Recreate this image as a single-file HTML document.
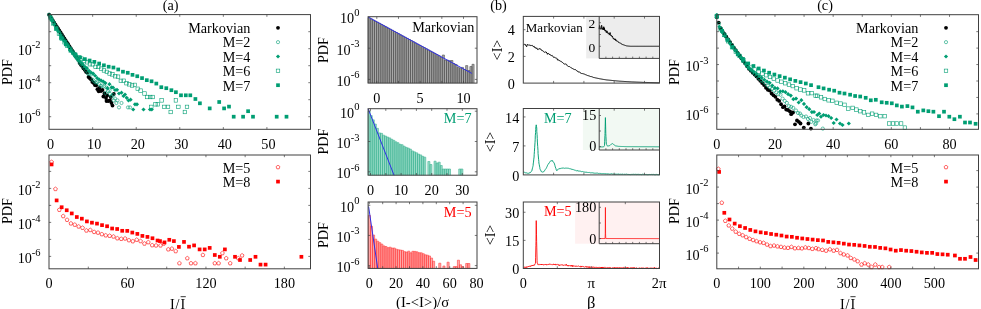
<!DOCTYPE html>
<html><head><meta charset="utf-8"><title>figure</title>
<style>
html,body{margin:0;padding:0;background:#fff;}
body{width:981px;height:309px;overflow:hidden;font-family:"Liberation Serif",serif;}
svg{display:block;font-family:"Liberation Serif",serif;filter:blur(0.45px);}
</style></head><body>
<svg width="981" height="309" viewBox="0 0 981 309">
<rect width="981" height="309" fill="#fff"/>
<text x="170.6" y="10.2" text-anchor="middle" font-size="14.2" fill="#000" >(a)</text>
<circle cx="49.1" cy="14.7" r="1.9" fill="#000000"/>
<circle cx="50.37" cy="16.66" r="1.9" fill="#000000"/>
<circle cx="51.64" cy="18.64" r="1.9" fill="#000000"/>
<circle cx="52.92" cy="20.65" r="1.9" fill="#000000"/>
<circle cx="54.19" cy="22.58" r="1.9" fill="#000000"/>
<circle cx="55.46" cy="24.56" r="1.9" fill="#000000"/>
<circle cx="56.73" cy="26.56" r="1.9" fill="#000000"/>
<circle cx="58" cy="28.5" r="1.9" fill="#000000"/>
<circle cx="59.28" cy="30.48" r="1.9" fill="#000000"/>
<circle cx="60.55" cy="32.46" r="1.9" fill="#000000"/>
<circle cx="61.82" cy="34.44" r="1.9" fill="#000000"/>
<circle cx="63.09" cy="36.39" r="1.9" fill="#000000"/>
<circle cx="64.36" cy="38.45" r="1.9" fill="#000000"/>
<circle cx="65.64" cy="40.38" r="1.9" fill="#000000"/>
<circle cx="66.91" cy="42.39" r="1.9" fill="#000000"/>
<circle cx="68.18" cy="44.26" r="1.9" fill="#000000"/>
<circle cx="69.45" cy="46.29" r="1.9" fill="#000000"/>
<circle cx="70.72" cy="48.31" r="1.9" fill="#000000"/>
<circle cx="72" cy="50.36" r="1.9" fill="#000000"/>
<circle cx="73.27" cy="52.26" r="1.9" fill="#000000"/>
<circle cx="74.54" cy="54.19" r="1.9" fill="#000000"/>
<circle cx="75.81" cy="56.23" r="1.9" fill="#000000"/>
<circle cx="77.08" cy="57.81" r="1.9" fill="#000000"/>
<circle cx="78.35" cy="59.82" r="1.9" fill="#000000"/>
<circle cx="79.63" cy="63.08" r="1.9" fill="#000000"/>
<circle cx="80.9" cy="64.84" r="1.9" fill="#000000"/>
<circle cx="82.17" cy="66.12" r="1.9" fill="#000000"/>
<circle cx="83.44" cy="68.23" r="1.9" fill="#000000"/>
<circle cx="84.71" cy="69.86" r="1.9" fill="#000000"/>
<circle cx="85.99" cy="71.82" r="1.9" fill="#000000"/>
<circle cx="87.26" cy="72.48" r="1.9" fill="#000000"/>
<circle cx="88.53" cy="76.94" r="1.9" fill="#000000"/>
<circle cx="89.8" cy="78.22" r="1.9" fill="#000000"/>
<circle cx="91.07" cy="79.42" r="1.9" fill="#000000"/>
<circle cx="92.35" cy="81.93" r="1.9" fill="#000000"/>
<circle cx="93.62" cy="82.92" r="1.9" fill="#000000"/>
<circle cx="94.89" cy="85.04" r="1.9" fill="#000000"/>
<circle cx="96.16" cy="85.4" r="1.9" fill="#000000"/>
<circle cx="97.43" cy="89.17" r="1.9" fill="#000000"/>
<circle cx="98.71" cy="91.3" r="1.9" fill="#000000"/>
<circle cx="99.5" cy="88" r="1.9" fill="#000000"/>
<circle cx="101" cy="91" r="1.9" fill="#000000"/>
<circle cx="102.5" cy="90" r="1.9" fill="#000000"/>
<circle cx="103.4" cy="96.5" r="1.9" fill="#000000"/>
<circle cx="104.5" cy="93.5" r="1.9" fill="#000000"/>
<circle cx="106" cy="98" r="1.9" fill="#000000"/>
<circle cx="107.2" cy="95.5" r="1.9" fill="#000000"/>
<circle cx="108.5" cy="101" r="1.9" fill="#000000"/>
<circle cx="110" cy="100.4" r="1.9" fill="#000000"/>
<circle cx="110.8" cy="97" r="1.9" fill="#000000"/>
<circle cx="112.5" cy="105.6" r="1.9" fill="#000000"/>
<circle cx="113.8" cy="94" r="1.9" fill="#000000"/>
<circle cx="111.5" cy="103" r="1.9" fill="#000000"/>
<circle cx="106.5" cy="101" r="1.9" fill="#000000"/>
<circle cx="49.1" cy="14.7" r="1.6" fill="none" stroke="#009e73" stroke-width="0.6"/>
<circle cx="50.71" cy="17.67" r="1.6" fill="none" stroke="#009e73" stroke-width="0.6"/>
<circle cx="52.32" cy="20.62" r="1.6" fill="none" stroke="#009e73" stroke-width="0.6"/>
<circle cx="53.94" cy="23.53" r="1.6" fill="none" stroke="#009e73" stroke-width="0.6"/>
<circle cx="55.55" cy="26.02" r="1.6" fill="none" stroke="#009e73" stroke-width="0.6"/>
<circle cx="57.16" cy="28.65" r="1.6" fill="none" stroke="#009e73" stroke-width="0.6"/>
<circle cx="58.77" cy="31.31" r="1.6" fill="none" stroke="#009e73" stroke-width="0.6"/>
<circle cx="60.38" cy="33.87" r="1.6" fill="none" stroke="#009e73" stroke-width="0.6"/>
<circle cx="61.99" cy="36.5" r="1.6" fill="none" stroke="#009e73" stroke-width="0.6"/>
<circle cx="63.61" cy="39.03" r="1.6" fill="none" stroke="#009e73" stroke-width="0.6"/>
<circle cx="65.22" cy="41.36" r="1.6" fill="none" stroke="#009e73" stroke-width="0.6"/>
<circle cx="66.83" cy="43.93" r="1.6" fill="none" stroke="#009e73" stroke-width="0.6"/>
<circle cx="68.44" cy="46.39" r="1.6" fill="none" stroke="#009e73" stroke-width="0.6"/>
<circle cx="70.05" cy="48.91" r="1.6" fill="none" stroke="#009e73" stroke-width="0.6"/>
<circle cx="71.66" cy="51.09" r="1.6" fill="none" stroke="#009e73" stroke-width="0.6"/>
<circle cx="73.28" cy="53.45" r="1.6" fill="none" stroke="#009e73" stroke-width="0.6"/>
<circle cx="74.89" cy="55.57" r="1.6" fill="none" stroke="#009e73" stroke-width="0.6"/>
<circle cx="76.5" cy="58.11" r="1.6" fill="none" stroke="#009e73" stroke-width="0.6"/>
<circle cx="78.11" cy="60.18" r="1.6" fill="none" stroke="#009e73" stroke-width="0.6"/>
<circle cx="79.72" cy="62.79" r="1.6" fill="none" stroke="#009e73" stroke-width="0.6"/>
<circle cx="81.33" cy="64.18" r="1.6" fill="none" stroke="#009e73" stroke-width="0.6"/>
<circle cx="82.95" cy="66.47" r="1.6" fill="none" stroke="#009e73" stroke-width="0.6"/>
<circle cx="84.56" cy="68.42" r="1.6" fill="none" stroke="#009e73" stroke-width="0.6"/>
<circle cx="86.17" cy="70.39" r="1.6" fill="none" stroke="#009e73" stroke-width="0.6"/>
<circle cx="87.78" cy="73.44" r="1.6" fill="none" stroke="#009e73" stroke-width="0.6"/>
<circle cx="89.39" cy="73.88" r="1.6" fill="none" stroke="#009e73" stroke-width="0.6"/>
<circle cx="91" cy="74.52" r="1.6" fill="none" stroke="#009e73" stroke-width="0.6"/>
<circle cx="92.62" cy="79.69" r="1.6" fill="none" stroke="#009e73" stroke-width="0.6"/>
<circle cx="94.23" cy="81.31" r="1.6" fill="none" stroke="#009e73" stroke-width="0.6"/>
<circle cx="95.84" cy="82.49" r="1.6" fill="none" stroke="#009e73" stroke-width="0.6"/>
<circle cx="97.45" cy="82.24" r="1.6" fill="none" stroke="#009e73" stroke-width="0.6"/>
<circle cx="99.06" cy="83.89" r="1.6" fill="none" stroke="#009e73" stroke-width="0.6"/>
<circle cx="100.68" cy="86.01" r="1.6" fill="none" stroke="#009e73" stroke-width="0.6"/>
<circle cx="102.29" cy="85.61" r="1.6" fill="none" stroke="#009e73" stroke-width="0.6"/>
<circle cx="103.9" cy="86.43" r="1.6" fill="none" stroke="#009e73" stroke-width="0.6"/>
<circle cx="105.51" cy="92.98" r="1.6" fill="none" stroke="#009e73" stroke-width="0.6"/>
<circle cx="106.5" cy="87.5" r="1.6" fill="none" stroke="#009e73" stroke-width="0.6"/>
<circle cx="108" cy="91" r="1.6" fill="none" stroke="#009e73" stroke-width="0.6"/>
<circle cx="109.5" cy="90.5" r="1.6" fill="none" stroke="#009e73" stroke-width="0.6"/>
<circle cx="110" cy="94" r="1.6" fill="none" stroke="#009e73" stroke-width="0.6"/>
<circle cx="111.5" cy="96" r="1.6" fill="none" stroke="#009e73" stroke-width="0.6"/>
<circle cx="113" cy="95" r="1.6" fill="none" stroke="#009e73" stroke-width="0.6"/>
<circle cx="113.8" cy="100.4" r="1.6" fill="none" stroke="#009e73" stroke-width="0.6"/>
<circle cx="115" cy="98.5" r="1.6" fill="none" stroke="#009e73" stroke-width="0.6"/>
<circle cx="116.4" cy="103" r="1.6" fill="none" stroke="#009e73" stroke-width="0.6"/>
<circle cx="117.5" cy="100.4" r="1.6" fill="none" stroke="#009e73" stroke-width="0.6"/>
<circle cx="119" cy="107.4" r="1.6" fill="none" stroke="#009e73" stroke-width="0.6"/>
<circle cx="121.5" cy="103" r="1.6" fill="none" stroke="#009e73" stroke-width="0.6"/>
<circle cx="128" cy="107.4" r="1.6" fill="none" stroke="#009e73" stroke-width="0.6"/>
<circle cx="130" cy="107.4" r="1.6" fill="none" stroke="#009e73" stroke-width="0.6"/>
<path d="M50.1 14.53l2.1 2.1l-2.1 2.1l-2.1 -2.1z" fill="#009e73"/>
<path d="M52.15 18.6l2.1 2.1l-2.1 2.1l-2.1 -2.1z" fill="#009e73"/>
<path d="M54.2 22.36l2.1 2.1l-2.1 2.1l-2.1 -2.1z" fill="#009e73"/>
<path d="M56.24 25.9l2.1 2.1l-2.1 2.1l-2.1 -2.1z" fill="#009e73"/>
<path d="M58.29 29.42l2.1 2.1l-2.1 2.1l-2.1 -2.1z" fill="#009e73"/>
<path d="M60.34 32.93l2.1 2.1l-2.1 2.1l-2.1 -2.1z" fill="#009e73"/>
<path d="M62.39 36.49l2.1 2.1l-2.1 2.1l-2.1 -2.1z" fill="#009e73"/>
<path d="M64.43 39.23l2.1 2.1l-2.1 2.1l-2.1 -2.1z" fill="#009e73"/>
<path d="M66.48 42.14l2.1 2.1l-2.1 2.1l-2.1 -2.1z" fill="#009e73"/>
<path d="M68.53 44.57l2.1 2.1l-2.1 2.1l-2.1 -2.1z" fill="#009e73"/>
<path d="M70.58 47.73l2.1 2.1l-2.1 2.1l-2.1 -2.1z" fill="#009e73"/>
<path d="M72.62 50.67l2.1 2.1l-2.1 2.1l-2.1 -2.1z" fill="#009e73"/>
<path d="M74.67 53.52l2.1 2.1l-2.1 2.1l-2.1 -2.1z" fill="#009e73"/>
<path d="M76.72 55.99l2.1 2.1l-2.1 2.1l-2.1 -2.1z" fill="#009e73"/>
<path d="M78.76 58.32l2.1 2.1l-2.1 2.1l-2.1 -2.1z" fill="#009e73"/>
<path d="M80.81 60.35l2.1 2.1l-2.1 2.1l-2.1 -2.1z" fill="#009e73"/>
<path d="M82.86 62.26l2.1 2.1l-2.1 2.1l-2.1 -2.1z" fill="#009e73"/>
<path d="M84.91 64.63l2.1 2.1l-2.1 2.1l-2.1 -2.1z" fill="#009e73"/>
<path d="M86.95 66.1l2.1 2.1l-2.1 2.1l-2.1 -2.1z" fill="#009e73"/>
<path d="M89 68.64l2.1 2.1l-2.1 2.1l-2.1 -2.1z" fill="#009e73"/>
<path d="M91.05 70.51l2.1 2.1l-2.1 2.1l-2.1 -2.1z" fill="#009e73"/>
<path d="M93.1 71.45l2.1 2.1l-2.1 2.1l-2.1 -2.1z" fill="#009e73"/>
<path d="M95.14 73.63l2.1 2.1l-2.1 2.1l-2.1 -2.1z" fill="#009e73"/>
<path d="M97.19 76.08l2.1 2.1l-2.1 2.1l-2.1 -2.1z" fill="#009e73"/>
<path d="M99.24 77.41l2.1 2.1l-2.1 2.1l-2.1 -2.1z" fill="#009e73"/>
<path d="M101.28 78.58l2.1 2.1l-2.1 2.1l-2.1 -2.1z" fill="#009e73"/>
<path d="M103.33 79.52l2.1 2.1l-2.1 2.1l-2.1 -2.1z" fill="#009e73"/>
<path d="M105.38 81l2.1 2.1l-2.1 2.1l-2.1 -2.1z" fill="#009e73"/>
<path d="M107.43 86.12l2.1 2.1l-2.1 2.1l-2.1 -2.1z" fill="#009e73"/>
<path d="M109.47 82.11l2.1 2.1l-2.1 2.1l-2.1 -2.1z" fill="#009e73"/>
<path d="M111.52 85.34l2.1 2.1l-2.1 2.1l-2.1 -2.1z" fill="#009e73"/>
<path d="M113 85.4l2.1 2.1l-2.1 2.1l-2.1 -2.1z" fill="#009e73"/>
<path d="M115 87.9l2.1 2.1l-2.1 2.1l-2.1 -2.1z" fill="#009e73"/>
<path d="M117 87.7l2.1 2.1l-2.1 2.1l-2.1 -2.1z" fill="#009e73"/>
<path d="M119 91.4l2.1 2.1l-2.1 2.1l-2.1 -2.1z" fill="#009e73"/>
<path d="M121.5 90.6l2.1 2.1l-2.1 2.1l-2.1 -2.1z" fill="#009e73"/>
<path d="M123.5 93.9l2.1 2.1l-2.1 2.1l-2.1 -2.1z" fill="#009e73"/>
<path d="M125 92.4l2.1 2.1l-2.1 2.1l-2.1 -2.1z" fill="#009e73"/>
<path d="M126.7 95.7l2.1 2.1l-2.1 2.1l-2.1 -2.1z" fill="#009e73"/>
<path d="M128.5 98.3l2.1 2.1l-2.1 2.1l-2.1 -2.1z" fill="#009e73"/>
<path d="M130.6 97.6l2.1 2.1l-2.1 2.1l-2.1 -2.1z" fill="#009e73"/>
<path d="M133.2 107.4l2.1 2.1l-2.1 2.1l-2.1 -2.1z" fill="#009e73"/>
<path d="M135 102.2l2.1 2.1l-2.1 2.1l-2.1 -2.1z" fill="#009e73"/>
<path d="M137 102.2l2.1 2.1l-2.1 2.1l-2.1 -2.1z" fill="#009e73"/>
<path d="M143.5 107.4l2.1 2.1l-2.1 2.1l-2.1 -2.1z" fill="#009e73"/>
<path d="M150 107.4l2.1 2.1l-2.1 2.1l-2.1 -2.1z" fill="#009e73"/>
<path d="M151.8 107.4l2.1 2.1l-2.1 2.1l-2.1 -2.1z" fill="#009e73"/>
<rect x="48.74" y="15.84" width="3.5" height="3.5" fill="none" stroke="#009e73" stroke-width="0.6"/>
<rect x="51.56" y="21.66" width="3.5" height="3.5" fill="none" stroke="#009e73" stroke-width="0.6"/>
<rect x="54.37" y="26.7" width="3.5" height="3.5" fill="none" stroke="#009e73" stroke-width="0.6"/>
<rect x="57.19" y="31.77" width="3.5" height="3.5" fill="none" stroke="#009e73" stroke-width="0.6"/>
<rect x="60" y="36.93" width="3.5" height="3.5" fill="none" stroke="#009e73" stroke-width="0.6"/>
<rect x="62.81" y="40.5" width="3.5" height="3.5" fill="none" stroke="#009e73" stroke-width="0.6"/>
<rect x="65.63" y="43.95" width="3.5" height="3.5" fill="none" stroke="#009e73" stroke-width="0.6"/>
<rect x="68.44" y="47.29" width="3.5" height="3.5" fill="none" stroke="#009e73" stroke-width="0.6"/>
<rect x="71.26" y="50.93" width="3.5" height="3.5" fill="none" stroke="#009e73" stroke-width="0.6"/>
<rect x="74.07" y="53.73" width="3.5" height="3.5" fill="none" stroke="#009e73" stroke-width="0.6"/>
<rect x="76.88" y="55.44" width="3.5" height="3.5" fill="none" stroke="#009e73" stroke-width="0.6"/>
<rect x="79.7" y="56.89" width="3.5" height="3.5" fill="none" stroke="#009e73" stroke-width="0.6"/>
<rect x="82.51" y="58.86" width="3.5" height="3.5" fill="none" stroke="#009e73" stroke-width="0.6"/>
<rect x="85.33" y="60.52" width="3.5" height="3.5" fill="none" stroke="#009e73" stroke-width="0.6"/>
<rect x="88.14" y="62.5" width="3.5" height="3.5" fill="none" stroke="#009e73" stroke-width="0.6"/>
<rect x="90.95" y="62.57" width="3.5" height="3.5" fill="none" stroke="#009e73" stroke-width="0.6"/>
<rect x="93.77" y="65.08" width="3.5" height="3.5" fill="none" stroke="#009e73" stroke-width="0.6"/>
<rect x="96.58" y="65.2" width="3.5" height="3.5" fill="none" stroke="#009e73" stroke-width="0.6"/>
<rect x="99.4" y="66.91" width="3.5" height="3.5" fill="none" stroke="#009e73" stroke-width="0.6"/>
<rect x="102.21" y="68.7" width="3.5" height="3.5" fill="none" stroke="#009e73" stroke-width="0.6"/>
<rect x="105.02" y="70.16" width="3.5" height="3.5" fill="none" stroke="#009e73" stroke-width="0.6"/>
<rect x="107.84" y="71.73" width="3.5" height="3.5" fill="none" stroke="#009e73" stroke-width="0.6"/>
<rect x="110.65" y="72.67" width="3.5" height="3.5" fill="none" stroke="#009e73" stroke-width="0.6"/>
<rect x="113.47" y="74.49" width="3.5" height="3.5" fill="none" stroke="#009e73" stroke-width="0.6"/>
<rect x="116.28" y="74.94" width="3.5" height="3.5" fill="none" stroke="#009e73" stroke-width="0.6"/>
<rect x="119.09" y="79.11" width="3.5" height="3.5" fill="none" stroke="#009e73" stroke-width="0.6"/>
<rect x="121.91" y="79" width="3.5" height="3.5" fill="none" stroke="#009e73" stroke-width="0.6"/>
<rect x="124.72" y="81.46" width="3.5" height="3.5" fill="none" stroke="#009e73" stroke-width="0.6"/>
<rect x="127.54" y="82.59" width="3.5" height="3.5" fill="none" stroke="#009e73" stroke-width="0.6"/>
<rect x="130.35" y="83.73" width="3.5" height="3.5" fill="none" stroke="#009e73" stroke-width="0.6"/>
<rect x="133.16" y="83.14" width="3.5" height="3.5" fill="none" stroke="#009e73" stroke-width="0.6"/>
<rect x="135.98" y="87.04" width="3.5" height="3.5" fill="none" stroke="#009e73" stroke-width="0.6"/>
<rect x="138.79" y="88.85" width="3.5" height="3.5" fill="none" stroke="#009e73" stroke-width="0.6"/>
<rect x="142.75" y="91.75" width="3.5" height="3.5" fill="none" stroke="#009e73" stroke-width="0.6"/>
<rect x="145.65" y="95.25" width="3.5" height="3.5" fill="none" stroke="#009e73" stroke-width="0.6"/>
<rect x="148.45" y="95.25" width="3.5" height="3.5" fill="none" stroke="#009e73" stroke-width="0.6"/>
<rect x="150.85" y="95.25" width="3.5" height="3.5" fill="none" stroke="#009e73" stroke-width="0.6"/>
<rect x="149.55" y="105.15" width="3.5" height="3.5" fill="none" stroke="#009e73" stroke-width="0.6"/>
<rect x="153.75" y="102.55" width="3.5" height="3.5" fill="none" stroke="#009e73" stroke-width="0.6"/>
<rect x="156.05" y="102.55" width="3.5" height="3.5" fill="none" stroke="#009e73" stroke-width="0.6"/>
<rect x="159.85" y="98.65" width="3.5" height="3.5" fill="none" stroke="#009e73" stroke-width="0.6"/>
<rect x="162.45" y="105.15" width="3.5" height="3.5" fill="none" stroke="#009e73" stroke-width="0.6"/>
<rect x="166.25" y="105.15" width="3.5" height="3.5" fill="none" stroke="#009e73" stroke-width="0.6"/>
<rect x="168.95" y="110.25" width="3.5" height="3.5" fill="none" stroke="#009e73" stroke-width="0.6"/>
<rect x="174.15" y="98.65" width="3.5" height="3.5" fill="none" stroke="#009e73" stroke-width="0.6"/>
<rect x="176.65" y="105.15" width="3.5" height="3.5" fill="none" stroke="#009e73" stroke-width="0.6"/>
<rect x="183.15" y="110.25" width="3.5" height="3.5" fill="none" stroke="#009e73" stroke-width="0.6"/>
<rect x="185.25" y="105.15" width="3.5" height="3.5" fill="none" stroke="#009e73" stroke-width="0.6"/>
<rect x="49.63" y="17.58" width="3.7" height="3.7" fill="#009e73"/>
<rect x="54.4" y="27.04" width="3.7" height="3.7" fill="#009e73"/>
<rect x="59.16" y="36.09" width="3.7" height="3.7" fill="#009e73"/>
<rect x="63.93" y="42.49" width="3.7" height="3.7" fill="#009e73"/>
<rect x="68.69" y="48.86" width="3.7" height="3.7" fill="#009e73"/>
<rect x="73.46" y="52.41" width="3.7" height="3.7" fill="#009e73"/>
<rect x="78.23" y="55.59" width="3.7" height="3.7" fill="#009e73"/>
<rect x="82.99" y="57.26" width="3.7" height="3.7" fill="#009e73"/>
<rect x="87.76" y="58.67" width="3.7" height="3.7" fill="#009e73"/>
<rect x="92.52" y="60" width="3.7" height="3.7" fill="#009e73"/>
<rect x="97.29" y="61.68" width="3.7" height="3.7" fill="#009e73"/>
<rect x="102.05" y="63.45" width="3.7" height="3.7" fill="#009e73"/>
<rect x="106.82" y="64.87" width="3.7" height="3.7" fill="#009e73"/>
<rect x="111.58" y="65.69" width="3.7" height="3.7" fill="#009e73"/>
<rect x="116.35" y="67.61" width="3.7" height="3.7" fill="#009e73"/>
<rect x="121.11" y="69.86" width="3.7" height="3.7" fill="#009e73"/>
<rect x="125.88" y="70.92" width="3.7" height="3.7" fill="#009e73"/>
<rect x="130.65" y="72.98" width="3.7" height="3.7" fill="#009e73"/>
<rect x="135.41" y="74.4" width="3.7" height="3.7" fill="#009e73"/>
<rect x="140.18" y="76.26" width="3.7" height="3.7" fill="#009e73"/>
<rect x="144.94" y="78.32" width="3.7" height="3.7" fill="#009e73"/>
<rect x="149.71" y="79.44" width="3.7" height="3.7" fill="#009e73"/>
<rect x="154.47" y="81.73" width="3.7" height="3.7" fill="#009e73"/>
<rect x="159.45" y="85.35" width="3.7" height="3.7" fill="#009e73"/>
<rect x="164.45" y="86.35" width="3.7" height="3.7" fill="#009e73"/>
<rect x="169.55" y="88.35" width="3.7" height="3.7" fill="#009e73"/>
<rect x="174.05" y="90.35" width="3.7" height="3.7" fill="#009e73"/>
<rect x="179.15" y="93.45" width="3.7" height="3.7" fill="#009e73"/>
<rect x="183.95" y="93.45" width="3.7" height="3.7" fill="#009e73"/>
<rect x="188.45" y="93.45" width="3.7" height="3.7" fill="#009e73"/>
<rect x="193.55" y="97.15" width="3.7" height="3.7" fill="#009e73"/>
<rect x="198.05" y="101.45" width="3.7" height="3.7" fill="#009e73"/>
<rect x="207.85" y="106.55" width="3.7" height="3.7" fill="#009e73"/>
<rect x="217.35" y="100.15" width="3.7" height="3.7" fill="#009e73"/>
<rect x="222.25" y="106.55" width="3.7" height="3.7" fill="#009e73"/>
<rect x="227.15" y="104.75" width="3.7" height="3.7" fill="#009e73"/>
<rect x="231.85" y="114.85" width="3.7" height="3.7" fill="#009e73"/>
<rect x="241.25" y="114.85" width="3.7" height="3.7" fill="#009e73"/>
<rect x="246.25" y="109.35" width="3.7" height="3.7" fill="#009e73"/>
<rect x="251.15" y="114.85" width="3.7" height="3.7" fill="#009e73"/>
<rect x="274.85" y="114.85" width="3.7" height="3.7" fill="#009e73"/>
<rect x="284.65" y="114.85" width="3.7" height="3.7" fill="#009e73"/>
<rect x="49" y="14.6" width="261.5" height="114.7" fill="none" stroke="#404040" stroke-width="1.0"/>
<path d="M92.66 129.3v-2.2M92.66 14.6v2.2M136.22 129.3v-2.2M136.22 14.6v2.2M179.78 129.3v-2.2M179.78 14.6v2.2M223.34 129.3v-2.2M223.34 14.6v2.2M266.9 129.3v-2.2M266.9 14.6v2.2M49 31.7h2.2M310.5 31.7h-2.2M49 48.7h2.2M310.5 48.7h-2.2M49 65.7h2.2M310.5 65.7h-2.2M49 82.7h2.2M310.5 82.7h-2.2M49 99.7h2.2M310.5 99.7h-2.2M49 116.7h2.2M310.5 116.7h-2.2" stroke="#404040" stroke-width="0.7" fill="none"/>
<text x="40.6" y="55.2" text-anchor="end" font-size="14.2">10<tspan dy="-7.3" font-size="10.5">-2</tspan></text>
<text x="40.6" y="89.2" text-anchor="end" font-size="14.2">10<tspan dy="-7.3" font-size="10.5">-4</tspan></text>
<text x="40.6" y="123.2" text-anchor="end" font-size="14.2">10<tspan dy="-7.3" font-size="10.5">-6</tspan></text>
<text x="50.6" y="149.3" text-anchor="middle" font-size="14.2" fill="#000" >0</text>
<text x="94.16" y="149.3" text-anchor="middle" font-size="14.2" fill="#000" >10</text>
<text x="137.72" y="149.3" text-anchor="middle" font-size="14.2" fill="#000" >20</text>
<text x="181.28" y="149.3" text-anchor="middle" font-size="14.2" fill="#000" >30</text>
<text x="224.84" y="149.3" text-anchor="middle" font-size="14.2" fill="#000" >40</text>
<text x="268.4" y="149.3" text-anchor="middle" font-size="14.2" fill="#000" >50</text>
<text x="12" y="72" text-anchor="middle" font-size="14.2" fill="#000" transform="rotate(-90 12 72)">PDF</text>
<text x="250.4" y="33.1" text-anchor="end" font-size="14.2" fill="#000" >Markovian</text>
<circle cx="278" cy="27.8" r="1.9" fill="#000000"/>
<text x="250.4" y="47.45" text-anchor="end" font-size="14.2" fill="#000" >M=2</text>
<circle cx="278" cy="42.15" r="1.6" fill="none" stroke="#009e73" stroke-width="0.6"/>
<text x="250.4" y="61.8" text-anchor="end" font-size="14.2" fill="#000" >M=4</text>
<path d="M278 54.4l2.1 2.1l-2.1 2.1l-2.1 -2.1z" fill="#009e73"/>
<text x="250.4" y="76.15" text-anchor="end" font-size="14.2" fill="#000" >M=6</text>
<rect x="276.25" y="69.1" width="3.5" height="3.5" fill="none" stroke="#009e73" stroke-width="0.6"/>
<text x="250.4" y="90.5" text-anchor="end" font-size="14.2" fill="#000" >M=7</text>
<rect x="276.15" y="83.35" width="3.7" height="3.7" fill="#009e73"/>
<polygon points="51.58,160.05 53.49,161.43 52.76,163.67 50.41,163.67 49.68,161.43" fill="none" stroke="#ff0000" stroke-width="0.6"/>
<polygon points="55.45,187.04 57.35,188.42 56.63,190.66 54.28,190.66 53.55,188.42" fill="none" stroke="#ff0000" stroke-width="0.6"/>
<polygon points="59.32,207.86 61.22,209.24 60.5,211.48 58.15,211.48 57.42,209.24" fill="none" stroke="#ff0000" stroke-width="0.6"/>
<polygon points="63.19,214.17 65.09,215.55 64.37,217.79 62.01,217.79 61.29,215.55" fill="none" stroke="#ff0000" stroke-width="0.6"/>
<polygon points="67.06,217.85 68.96,219.23 68.23,221.46 65.88,221.46 65.16,219.23" fill="none" stroke="#ff0000" stroke-width="0.6"/>
<polygon points="70.93,221.46 72.83,222.84 72.1,225.08 69.75,225.08 69.02,222.84" fill="none" stroke="#ff0000" stroke-width="0.6"/>
<polygon points="74.8,222.74 76.7,224.12 75.97,226.36 73.62,226.36 72.89,224.12" fill="none" stroke="#ff0000" stroke-width="0.6"/>
<polygon points="78.66,224.56 80.57,225.95 79.84,228.18 77.49,228.18 76.76,225.95" fill="none" stroke="#ff0000" stroke-width="0.6"/>
<polygon points="82.53,225.86 84.44,227.24 83.71,229.48 81.36,229.48 80.63,227.24" fill="none" stroke="#ff0000" stroke-width="0.6"/>
<polygon points="86.4,228.56 88.3,229.94 87.58,232.18 85.23,232.18 84.5,229.94" fill="none" stroke="#ff0000" stroke-width="0.6"/>
<polygon points="90.27,228.07 92.17,229.45 91.45,231.69 89.09,231.69 88.37,229.45" fill="none" stroke="#ff0000" stroke-width="0.6"/>
<polygon points="94.14,229.98 96.04,231.36 95.31,233.59 92.96,233.59 92.24,231.36" fill="none" stroke="#ff0000" stroke-width="0.6"/>
<polygon points="98.01,230.67 99.91,232.06 99.18,234.29 96.83,234.29 96.11,232.06" fill="none" stroke="#ff0000" stroke-width="0.6"/>
<polygon points="101.88,232.24 103.78,233.62 103.05,235.86 100.7,235.86 99.97,233.62" fill="none" stroke="#ff0000" stroke-width="0.6"/>
<polygon points="105.75,233.42 107.65,234.8 106.92,237.04 104.57,237.04 103.84,234.8" fill="none" stroke="#ff0000" stroke-width="0.6"/>
<polygon points="109.61,233.85 111.52,235.23 110.79,237.47 108.44,237.47 107.71,235.23" fill="none" stroke="#ff0000" stroke-width="0.6"/>
<polygon points="113.48,234.58 115.38,235.96 114.66,238.2 112.31,238.2 111.58,235.96" fill="none" stroke="#ff0000" stroke-width="0.6"/>
<polygon points="117.35,236.35 119.25,237.73 118.53,239.97 116.18,239.97 115.45,237.73" fill="none" stroke="#ff0000" stroke-width="0.6"/>
<polygon points="121.22,236.9 123.12,238.28 122.4,240.52 120.04,240.52 119.32,238.28" fill="none" stroke="#ff0000" stroke-width="0.6"/>
<polygon points="125.09,236.55 126.99,237.93 126.26,240.17 123.91,240.17 123.19,237.93" fill="none" stroke="#ff0000" stroke-width="0.6"/>
<polygon points="128.96,238.27 130.86,239.66 130.13,241.89 127.78,241.89 127.06,239.66" fill="none" stroke="#ff0000" stroke-width="0.6"/>
<polygon points="132.83,239.32 134.73,240.7 134,242.94 131.65,242.94 130.92,240.7" fill="none" stroke="#ff0000" stroke-width="0.6"/>
<polygon points="136.7,237.8 138.6,239.18 137.87,241.42 135.52,241.42 134.79,239.18" fill="none" stroke="#ff0000" stroke-width="0.6"/>
<polygon points="140.56,239.17 142.47,240.55 141.74,242.79 139.39,242.79 138.66,240.55" fill="none" stroke="#ff0000" stroke-width="0.6"/>
<polygon points="144.43,241.65 146.33,243.03 145.61,245.27 143.26,245.27 142.53,243.03" fill="none" stroke="#ff0000" stroke-width="0.6"/>
<polygon points="148.3,240.27 150.2,241.65 149.48,243.89 147.13,243.89 146.4,241.65" fill="none" stroke="#ff0000" stroke-width="0.6"/>
<polygon points="152.17,243.26 154.07,244.64 153.35,246.88 150.99,246.88 150.27,244.64" fill="none" stroke="#ff0000" stroke-width="0.6"/>
<polygon points="156.04,243.5 157.94,244.88 157.21,247.11 154.86,247.11 154.14,244.88" fill="none" stroke="#ff0000" stroke-width="0.6"/>
<polygon points="160.5,243.5 162.4,244.88 161.68,247.12 159.32,247.12 158.6,244.88" fill="none" stroke="#ff0000" stroke-width="0.6"/>
<polygon points="163.8,241.6 165.7,242.98 164.98,245.22 162.62,245.22 161.9,242.98" fill="none" stroke="#ff0000" stroke-width="0.6"/>
<polygon points="168.3,247.4 170.2,248.78 169.48,251.02 167.12,251.02 166.4,248.78" fill="none" stroke="#ff0000" stroke-width="0.6"/>
<polygon points="171.9,246.7 173.8,248.08 173.08,250.32 170.72,250.32 170,248.08" fill="none" stroke="#ff0000" stroke-width="0.6"/>
<polygon points="175.7,249.2 177.6,250.58 176.88,252.82 174.52,252.82 173.8,250.58" fill="none" stroke="#ff0000" stroke-width="0.6"/>
<polygon points="179.4,261.3 181.3,262.68 180.58,264.92 178.22,264.92 177.5,262.68" fill="none" stroke="#ff0000" stroke-width="0.6"/>
<polygon points="187.3,256.3 189.2,257.68 188.48,259.92 186.12,259.92 185.4,257.68" fill="none" stroke="#ff0000" stroke-width="0.6"/>
<polygon points="191,261.3 192.9,262.68 192.18,264.92 189.82,264.92 189.1,262.68" fill="none" stroke="#ff0000" stroke-width="0.6"/>
<polygon points="195.4,261.3 197.3,262.68 196.58,264.92 194.22,264.92 193.5,262.68" fill="none" stroke="#ff0000" stroke-width="0.6"/>
<polygon points="202.9,253 204.8,254.38 204.08,256.62 201.72,256.62 201,254.38" fill="none" stroke="#ff0000" stroke-width="0.6"/>
<polygon points="214.8,261.3 216.7,262.68 215.98,264.92 213.62,264.92 212.9,262.68" fill="none" stroke="#ff0000" stroke-width="0.6"/>
<polygon points="218.6,261.3 220.5,262.68 219.78,264.92 217.42,264.92 216.7,262.68" fill="none" stroke="#ff0000" stroke-width="0.6"/>
<polygon points="222.4,251.2 224.3,252.58 223.58,254.82 221.22,254.82 220.5,252.58" fill="none" stroke="#ff0000" stroke-width="0.6"/>
<polygon points="226.2,256.3 228.1,257.68 227.38,259.92 225.02,259.92 224.3,257.68" fill="none" stroke="#ff0000" stroke-width="0.6"/>
<polygon points="230.2,261.3 232.1,262.68 231.38,264.92 229.02,264.92 228.3,262.68" fill="none" stroke="#ff0000" stroke-width="0.6"/>
<polygon points="238.3,256.3 240.2,257.68 239.48,259.92 237.12,259.92 236.4,257.68" fill="none" stroke="#ff0000" stroke-width="0.6"/>
<polygon points="242.1,253.5 244,254.88 243.28,257.12 240.92,257.12 240.2,254.88" fill="none" stroke="#ff0000" stroke-width="0.6"/>
<rect x="49.73" y="162.58" width="3.7" height="3.7" fill="#ff0000"/>
<rect x="54.78" y="198.56" width="3.7" height="3.7" fill="#ff0000"/>
<rect x="59.82" y="205.37" width="3.7" height="3.7" fill="#ff0000"/>
<rect x="64.87" y="208.4" width="3.7" height="3.7" fill="#ff0000"/>
<rect x="69.91" y="211.59" width="3.7" height="3.7" fill="#ff0000"/>
<rect x="74.96" y="215.17" width="3.7" height="3.7" fill="#ff0000"/>
<rect x="80" y="216.83" width="3.7" height="3.7" fill="#ff0000"/>
<rect x="85.05" y="219.56" width="3.7" height="3.7" fill="#ff0000"/>
<rect x="90.09" y="220.83" width="3.7" height="3.7" fill="#ff0000"/>
<rect x="95.14" y="221.76" width="3.7" height="3.7" fill="#ff0000"/>
<rect x="100.18" y="223.28" width="3.7" height="3.7" fill="#ff0000"/>
<rect x="105.23" y="224.41" width="3.7" height="3.7" fill="#ff0000"/>
<rect x="110.27" y="226.65" width="3.7" height="3.7" fill="#ff0000"/>
<rect x="115.32" y="227.15" width="3.7" height="3.7" fill="#ff0000"/>
<rect x="120.36" y="228.95" width="3.7" height="3.7" fill="#ff0000"/>
<rect x="125.41" y="229.03" width="3.7" height="3.7" fill="#ff0000"/>
<rect x="130.45" y="230.71" width="3.7" height="3.7" fill="#ff0000"/>
<rect x="135.5" y="232.04" width="3.7" height="3.7" fill="#ff0000"/>
<rect x="140.54" y="234.06" width="3.7" height="3.7" fill="#ff0000"/>
<rect x="145.59" y="235.04" width="3.7" height="3.7" fill="#ff0000"/>
<rect x="150.63" y="236.4" width="3.7" height="3.7" fill="#ff0000"/>
<rect x="155.68" y="238.66" width="3.7" height="3.7" fill="#ff0000"/>
<rect x="158.15" y="239.25" width="3.7" height="3.7" fill="#ff0000"/>
<rect x="162.65" y="240.55" width="3.7" height="3.7" fill="#ff0000"/>
<rect x="167.45" y="237.95" width="3.7" height="3.7" fill="#ff0000"/>
<rect x="172.05" y="239.25" width="3.7" height="3.7" fill="#ff0000"/>
<rect x="177.05" y="245.05" width="3.7" height="3.7" fill="#ff0000"/>
<rect x="182.15" y="240.05" width="3.7" height="3.7" fill="#ff0000"/>
<rect x="187.15" y="244.85" width="3.7" height="3.7" fill="#ff0000"/>
<rect x="192.25" y="243.55" width="3.7" height="3.7" fill="#ff0000"/>
<rect x="197.75" y="247.55" width="3.7" height="3.7" fill="#ff0000"/>
<rect x="202.85" y="247.55" width="3.7" height="3.7" fill="#ff0000"/>
<rect x="207.85" y="246.05" width="3.7" height="3.7" fill="#ff0000"/>
<rect x="212.95" y="253.15" width="3.7" height="3.7" fill="#ff0000"/>
<rect x="217.95" y="254.95" width="3.7" height="3.7" fill="#ff0000"/>
<rect x="223.05" y="247.55" width="3.7" height="3.7" fill="#ff0000"/>
<rect x="233.15" y="254.95" width="3.7" height="3.7" fill="#ff0000"/>
<rect x="238.15" y="258.15" width="3.7" height="3.7" fill="#ff0000"/>
<rect x="248.35" y="258.15" width="3.7" height="3.7" fill="#ff0000"/>
<rect x="253.65" y="254.95" width="3.7" height="3.7" fill="#ff0000"/>
<rect x="258.65" y="262.75" width="3.7" height="3.7" fill="#ff0000"/>
<rect x="263.75" y="262.75" width="3.7" height="3.7" fill="#ff0000"/>
<rect x="299.55" y="254.95" width="3.7" height="3.7" fill="#ff0000"/>
<rect x="49" y="155" width="261.5" height="113.8" fill="none" stroke="#404040" stroke-width="1.0"/>
<path d="M88.31 268.8v-2.2M88.31 155v2.2M127.52 268.8v-2.2M127.52 155v2.2M166.73 268.8v-2.2M166.73 155v2.2M205.94 268.8v-2.2M205.94 155v2.2M245.15 268.8v-2.2M245.15 155v2.2M284.36 268.8v-2.2M284.36 155v2.2M49 171.4h2.2M310.5 171.4h-2.2M49 188.4h2.2M310.5 188.4h-2.2M49 205.4h2.2M310.5 205.4h-2.2M49 222.4h2.2M310.5 222.4h-2.2M49 239.4h2.2M310.5 239.4h-2.2M49 256.4h2.2M310.5 256.4h-2.2" stroke="#404040" stroke-width="0.7" fill="none"/>
<text x="40.6" y="194.9" text-anchor="end" font-size="14.2">10<tspan dy="-7.3" font-size="10.5">-2</tspan></text>
<text x="40.6" y="228.9" text-anchor="end" font-size="14.2">10<tspan dy="-7.3" font-size="10.5">-4</tspan></text>
<text x="40.6" y="262.9" text-anchor="end" font-size="14.2">10<tspan dy="-7.3" font-size="10.5">-6</tspan></text>
<text x="49.1" y="288.3" text-anchor="middle" font-size="14.2" fill="#000" >0</text>
<text x="127.52" y="288.3" text-anchor="middle" font-size="14.2" fill="#000" >60</text>
<text x="205.94" y="288.3" text-anchor="middle" font-size="14.2" fill="#000" >120</text>
<text x="284.36" y="288.3" text-anchor="middle" font-size="14.2" fill="#000" >180</text>
<text x="12" y="211" text-anchor="middle" font-size="14.2" fill="#000" transform="rotate(-90 12 211)">PDF</text>
<text x="178" y="308.6" text-anchor="middle" font-size="14.2" fill="#000" letter-spacing="0.9">I/I</text>
<path d="M180.6 296.7h5.2" stroke="#000" stroke-width="0.8"/>
<text x="250.4" y="172.5" text-anchor="end" font-size="14.2" fill="#000" >M=5</text>
<polygon points="278,165.2 279.9,166.58 279.18,168.82 276.82,168.82 276.1,166.58" fill="none" stroke="#ff0000" stroke-width="0.6"/>
<text x="250.4" y="186.9" text-anchor="end" font-size="14.2" fill="#000" >M=8</text>
<rect x="276.15" y="179.75" width="3.7" height="3.7" fill="#ff0000"/>
<path d="M368.1 83.1V17.63h2.12V83.1M370.22 83.1V18.78h2.12V83.1M372.34 83.1V19.93h2.12V83.1M374.46 83.1V21.09h2.12V83.1M376.58 83.1V22.24h2.12V83.1M378.7 83.1V23.39h2.12V83.1M380.82 83.1V24.54h2.12V83.1M382.94 83.1V25.69h2.12V83.1M385.06 83.1V26.85h2.12V83.1M387.18 83.1V28h2.12V83.1M389.3 83.1V29.15h2.12V83.1M391.42 83.1V30.3h2.12V83.1M393.54 83.1V31.46h2.12V83.1M395.66 83.1V32.61h2.12V83.1M397.78 83.1V33.76h2.12V83.1M399.9 83.1V34.91h2.12V83.1M402.02 83.1V36.06h2.12V83.1M404.14 83.1V37.22h2.12V83.1M406.26 83.1V38.37h2.12V83.1M408.38 83.1V39.52h2.12V83.1M410.5 83.1V40.67h2.12V83.1M412.62 83.1V41.82h2.12V83.1M414.74 83.1V42.98h2.12V83.1M416.86 83.1V44.13h2.12V83.1M418.98 83.1V45.28h2.12V83.1M421.1 83.1V46.43h2.12V83.1M423.22 83.1V47.58h2.12V83.1M425.34 83.1V48.74h2.12V83.1M427.46 83.1V49.89h2.12V83.1M429.58 83.1V51.04h2.12V83.1M431.7 83.1V52.19h2.12V83.1M433.82 83.1V53.35h2.12V83.1M435.94 83.1V54.5h2.12V83.1M438.06 83.1V55.7h2.12V83.1M440.18 83.1V57.25h2.12V83.1M442.3 83.1V55h2.12V83.1M444.42 83.1V60.12h2.12V83.1M446.54 83.1V60.22h2.12V83.1M448.66 83.1V60.69h2.12V83.1M450.78 83.1V60.5h2.12V83.1M452.9 83.1V63.5h2.12V83.1M455.02 83.1V64.56h2.12V83.1M457.14 83.1V67.27h2.12V83.1M459.26 83.1V68.13h2.12V83.1M461.38 83.1V67.4h2.12V83.1M463.5 83.1V69.5h2.12V83.1M465.62 83.1V65.6h2.12V83.1M467.74 83.1V70.5h2.12V83.1M469.86 83.1V66.5h2.12V83.1M471.98 83.1V64.3h2.12V83.1" fill="#a8a8a8" stroke="#505050" stroke-width="0.6" stroke-linejoin="miter"/>
<path d="M368 17L471.8 73.4" stroke="#3030e6" stroke-width="1.0" fill="none"/>
<rect x="368.1" y="16.7" width="108.9" height="66.4" fill="none" stroke="#404040" stroke-width="1.0"/>
<path d="M376.8 83.1v-2.2M376.8 16.7v2.2M398.48 83.1v-2.2M398.48 16.7v2.2M420.15 83.1v-2.2M420.15 16.7v2.2M441.83 83.1v-2.2M441.83 16.7v2.2M463.5 83.1v-2.2M463.5 16.7v2.2M368.1 48.2h2.2M477 48.2h-2.2M368.1 79.4h2.2M477 79.4h-2.2" stroke="#404040" stroke-width="0.7" fill="none"/>
<text x="359.4" y="23.3" text-anchor="end" font-size="14.2">10<tspan dy="-7.3" font-size="10.5">0</tspan></text>
<text x="359.4" y="54.5" text-anchor="end" font-size="14.2">10<tspan dy="-7.3" font-size="10.5">-3</tspan></text>
<text x="359.4" y="85.7" text-anchor="end" font-size="14.2">10<tspan dy="-7.3" font-size="10.5">-6</tspan></text>
<text x="376.8" y="102.7" text-anchor="middle" font-size="14.2" fill="#000" >0</text>
<text x="420.15" y="102.7" text-anchor="middle" font-size="14.2" fill="#000" >5</text>
<text x="463.5" y="102.7" text-anchor="middle" font-size="14.2" fill="#000" >10</text>
<text x="474.4" y="31.9" text-anchor="end" font-size="14.2" fill="#000" >Markovian</text>
<text x="328.2" y="50" text-anchor="middle" font-size="14.2" fill="#000" transform="rotate(-90 328.2 50)">PDF</text>
<path d="M368.1 175.2V111.33h2.06V175.2M370.16 175.2V115.58h2.06V175.2M372.22 175.2V119.82h2.06V175.2M374.28 175.2V124.07h2.06V175.2M376.34 175.2V128.32h2.06V175.2M378.4 175.2V132.88h2.06V175.2M380.46 175.2V133.34h2.06V175.2M382.52 175.2V135.16h2.06V175.2M384.58 175.2V136.09h2.06V175.2M386.64 175.2V137.1h2.06V175.2M388.7 175.2V137.92h2.06V175.2M390.76 175.2V139.29h2.06V175.2M392.82 175.2V140.38h2.06V175.2M394.88 175.2V141.82h2.06V175.2M396.94 175.2V142.72h2.06V175.2M399 175.2V144.29h2.06V175.2M401.06 175.2V144.71h2.06V175.2M403.12 175.2V146.21h2.06V175.2M405.18 175.2V147.35h2.06V175.2M407.24 175.2V148.07h2.06V175.2M409.3 175.2V149.1h2.06V175.2M411.36 175.2V150.89h2.06V175.2M413.42 175.2V151.87h2.06V175.2M415.48 175.2V152.8h2.06V175.2M417.54 175.2V154.09h2.06V175.2M419.6 175.2V154.9h2.06V175.2M421.66 175.2V156.31h2.06V175.2M423.72 175.2V157.18h2.06V175.2M427.84 175.2V161.5h2.06V175.2M429.9 175.2V164.5h2.06V175.2M434.02 175.2V161.2h2.06V175.2M436.08 175.2V163h2.06V175.2M438.14 175.2V162.2h2.06V175.2M440.2 175.2V165.5h2.06V175.2M442.26 175.2V169h2.06V175.2M444.32 175.2V169h2.06V175.2M446.38 175.2V169h2.06V175.2M448.44 175.2V169h2.06V175.2M458.74 175.2V169h2.06V175.2M460.8 175.2V169h2.06V175.2" fill="#9adcc8" stroke="#3fb493" stroke-width="0.6" stroke-linejoin="miter"/>
<path d="M368.2 108.9L394 175.2" stroke="#3030e6" stroke-width="1.0" fill="none"/>
<rect x="368.1" y="108.7" width="108.9" height="66.5" fill="none" stroke="#404040" stroke-width="1.0"/>
<path d="M370.5 175.2v-2.2M370.5 108.7v2.2M385.8 175.2v-2.2M385.8 108.7v2.2M401.1 175.2v-2.2M401.1 108.7v2.2M416.4 175.2v-2.2M416.4 108.7v2.2M431.7 175.2v-2.2M431.7 108.7v2.2M447 175.2v-2.2M447 108.7v2.2M462.3 175.2v-2.2M462.3 108.7v2.2M368.1 111.2h2.2M477 111.2h-2.2M368.1 141.5h2.2M477 141.5h-2.2M368.1 171.8h2.2M477 171.8h-2.2" stroke="#404040" stroke-width="0.7" fill="none"/>
<text x="359.4" y="117.5" text-anchor="end" font-size="14.2">10<tspan dy="-7.3" font-size="10.5">0</tspan></text>
<text x="359.4" y="147.8" text-anchor="end" font-size="14.2">10<tspan dy="-7.3" font-size="10.5">-3</tspan></text>
<text x="359.4" y="178.1" text-anchor="end" font-size="14.2">10<tspan dy="-7.3" font-size="10.5">-6</tspan></text>
<text x="370.5" y="194.8" text-anchor="middle" font-size="14.2" fill="#000" >0</text>
<text x="401.1" y="194.8" text-anchor="middle" font-size="14.2" fill="#000" >10</text>
<text x="431.7" y="194.8" text-anchor="middle" font-size="14.2" fill="#000" >20</text>
<text x="462.3" y="194.8" text-anchor="middle" font-size="14.2" fill="#000" >30</text>
<text x="471.5" y="123.2" text-anchor="end" font-size="14.2" fill="#009e73" >M=7</text>
<text x="328.2" y="141.5" text-anchor="middle" font-size="14.2" fill="#000" transform="rotate(-90 328.2 141.5)">PDF</text>
<path d="M368.4 268.4V215.44h2.07V268.4M370.47 268.4V226.26h2.07V268.4M372.54 268.4V235.05h2.07V268.4M374.61 268.4V239.15h2.07V268.4M376.68 268.4V241.22h2.07V268.4M378.75 268.4V242.67h2.07V268.4M380.82 268.4V244.13h2.07V268.4M382.89 268.4V245.89h2.07V268.4M384.96 268.4V246.55h2.07V268.4M387.03 268.4V247.65h2.07V268.4M389.1 268.4V247.2h2.07V268.4M391.17 268.4V248.07h2.07V268.4M393.24 268.4V248.03h2.07V268.4M395.31 268.4V249.16h2.07V268.4M397.38 268.4V249.75h2.07V268.4M399.45 268.4V250.04h2.07V268.4M401.52 268.4V250.42h2.07V268.4M403.59 268.4V251.64h2.07V268.4M405.66 268.4V252.1h2.07V268.4M407.73 268.4V251.2h2.07V268.4M409.8 268.4V252.81h2.07V268.4M411.87 268.4V251.31h2.07V268.4M413.94 268.4V251.42h2.07V268.4M416.01 268.4V251.87h2.07V268.4M418.08 268.4V252.71h2.07V268.4M420.15 268.4V252.82h2.07V268.4M422.22 268.4V253.69h2.07V268.4M424.29 268.4V254.81h2.07V268.4M426.36 268.4V255.19h2.07V268.4M428.43 268.4V255.98h2.07V268.4M430.5 268.4V258.05h2.07V268.4M432.57 268.4V261.23h2.07V268.4M438.78 268.4V263.2h2.07V268.4M442.92 268.4V266h2.07V268.4M447.06 268.4V262.2h2.07V268.4M453.27 268.4V266.6h2.07V268.4M455.34 268.4V266.6h2.07V268.4M457.41 268.4V260.2h2.07V268.4M459.48 268.4V264.8h2.07V268.4M461.55 268.4V266.6h2.07V268.4M465.69 268.4V263.5h2.07V268.4M467.76 268.4V263.5h2.07V268.4" fill="#ffa8a8" stroke="#ff4040" stroke-width="0.6" stroke-linejoin="miter"/>
<path d="M368.6 206.5L377.7 268.4" stroke="#3030e6" stroke-width="1.0" fill="none"/>
<rect x="368.1" y="202" width="108.9" height="66.4" fill="none" stroke="#404040" stroke-width="1.0"/>
<path d="M369.3 268.4v-2.2M369.3 202v2.2M382.7 268.4v-2.2M382.7 202v2.2M396.1 268.4v-2.2M396.1 202v2.2M409.5 268.4v-2.2M409.5 202v2.2M422.9 268.4v-2.2M422.9 202v2.2M436.3 268.4v-2.2M436.3 202v2.2M449.7 268.4v-2.2M449.7 202v2.2M463.1 268.4v-2.2M463.1 202v2.2M368.1 205.3h2.2M477 205.3h-2.2M368.1 235.45h2.2M477 235.45h-2.2M368.1 265.6h2.2M477 265.6h-2.2" stroke="#404040" stroke-width="0.7" fill="none"/>
<text x="359.4" y="211.6" text-anchor="end" font-size="14.2">10<tspan dy="-7.3" font-size="10.5">0</tspan></text>
<text x="359.4" y="241.75" text-anchor="end" font-size="14.2">10<tspan dy="-7.3" font-size="10.5">-3</tspan></text>
<text x="359.4" y="271.9" text-anchor="end" font-size="14.2">10<tspan dy="-7.3" font-size="10.5">-6</tspan></text>
<text x="369.3" y="288.3" text-anchor="middle" font-size="14.2" fill="#000" >0</text>
<text x="396.1" y="288.3" text-anchor="middle" font-size="14.2" fill="#000" >20</text>
<text x="422.9" y="288.3" text-anchor="middle" font-size="14.2" fill="#000" >40</text>
<text x="449.7" y="288.3" text-anchor="middle" font-size="14.2" fill="#000" >60</text>
<text x="476.5" y="288.3" text-anchor="middle" font-size="14.2" fill="#000" >80</text>
<text x="471.5" y="216.5" text-anchor="end" font-size="14.2" fill="#ff0000" >M=5</text>
<text x="328.2" y="235" text-anchor="middle" font-size="14.2" fill="#000" transform="rotate(-90 328.2 235)">PDF</text>
<text x="422.6" y="307.2" text-anchor="middle" font-size="14.7" fill="#000" >(I-&lt;I&gt;)/σ</text>
<text x="498.5" y="10.2" text-anchor="middle" font-size="14.2" fill="#000" >(b)</text>
<rect x="586.2" y="16.4" width="73.3" height="42" fill="#ededed"/>
<path d="M523.29 44.72L523.74 44.89L524.19 44.74L524.64 44.21L525.09 44.55L525.54 44.55L525.99 45.94L526.44 46.49L526.66 46.77L526.89 45.83L527.34 44.41L527.79 44.88L528.24 44.7L528.69 45.27L529.14 44.94L529.59 45.15L530.04 45.16L530.49 45.34L530.54 45.64L530.94 45.39L531.39 45.51L531.84 45.38L532.29 45.33L532.74 45.73L533.19 46.63L533.64 46.54L534.09 46.23L534.54 47.33L534.99 47.44L535.44 48L535.73 47.57L535.89 48.39L536.34 48.44L536.79 47.9L537.24 48.89L537.69 49.58L538.14 49.65L538.59 49L539.04 48.45L539.49 48.73L539.94 49.16L540.39 48.8L540.84 49.52L540.91 49.41L541.29 50.04L541.74 50.19L542.19 50.92L542.64 50.72L543.09 51.08L543.54 51.29L543.99 51.88L544.44 52.42L544.89 51.97L545.34 52.03L545.79 51.8L546.24 52.04L546.69 53.01L547.14 53.16L547.38 54.29L547.59 53.58L548.04 53.38L548.49 53.47L548.94 53.71L549.39 54.7L549.84 54.2L550.29 54.94L550.74 55.24L551.19 55.76L551.64 55.55L552.09 55.26L552.54 55.9L552.99 56.59L553.44 57.22L553.86 57.12L553.89 57.4L554.34 57.36L554.79 57.27L555.24 57.6L555.69 57.98L556.14 57.98L556.59 58.11L557.04 58.64L557.49 60.06L557.94 59.95L558.39 59.99L558.84 59.87L559.29 60.71L559.74 60.74L560.19 60.98L560.34 60.92L560.64 61.35L561.09 61.34L561.54 61.78L561.99 61.95L562.44 62.44L562.89 62.63L563.34 63.23L563.79 63.84L564.24 64.12L564.69 64.02L565.14 63.87L565.59 64.03L566.04 64.09L566.49 64.4L566.81 64.67L566.94 65.45L567.39 65.66L567.84 66.19L568.29 66.4L568.74 66.57L569.19 66.6L569.64 66.63L570.09 66.91L570.54 67.39L570.99 67.66L571.44 67.94L571.89 67.91L572.34 68.47L572.79 68.71L573.24 69.04L573.29 68.9L573.69 69.22L574.14 69.34L574.59 69.59L575.04 69.47L575.49 69.59L575.94 69.96L576.39 70.58L576.84 70.81L577.29 71.05L577.74 71.21L578.19 72.01L578.64 72.06L579.09 72.16L579.54 71.89L579.77 72.28L579.99 72.65L580.44 72.9L580.89 73.14L581.34 73.4L581.79 73.54L582.24 73.62L582.69 73.59L583.14 73.76L583.59 73.85L584.04 74.03L584.49 74.16L584.94 74.36L585.39 74.59L585.84 74.77L586.24 74.9L586.29 74.93L586.74 75.17L587.19 75.34L587.64 75.58L588.09 75.68L588.54 75.76L588.99 75.9L589.44 76.05L589.89 76.33L590.34 76.48L590.79 76.54L591.24 76.57L591.69 76.69L592.14 76.88L592.59 77L592.72 77.1L593.04 77.27L593.49 77.45L593.94 77.53L594.39 77.6L594.84 77.7L595.29 77.81L595.74 77.93L596.19 78L596.64 78.12L597.09 78.22L597.54 78.31L597.99 78.38L598.44 78.46L598.89 78.54L599.2 78.62L599.34 78.7L599.79 78.78L600.24 78.85L600.69 78.93L601.14 79L601.59 79.08L602.04 79.16L602.49 79.25L602.94 79.33L603.39 79.41L603.84 79.49L604.29 79.56L604.74 79.63L605.19 79.69L605.64 79.75L605.67 79.81L606.09 79.86L606.54 79.91L606.99 79.96L607.44 80L607.89 80.04L608.34 80.09L608.79 80.13L609.24 80.18L609.69 80.22L610.14 80.27L610.59 80.31L611.04 80.36L611.49 80.4L611.94 80.45L612.39 80.49L612.84 80.54L613.29 80.58L613.74 80.63L614.19 80.67L614.64 80.72L615.09 80.76L615.54 80.81L615.99 80.85L616.44 80.9L616.89 80.94L617.34 80.98L617.79 81.02L618.24 81.05L618.63 81.09L618.69 81.12L619.14 81.15L619.59 81.18L620.04 81.2L620.49 81.23L620.94 81.25L621.39 81.28L621.84 81.31L622.29 81.33L622.74 81.36L623.19 81.39L623.64 81.41L624.09 81.44L624.54 81.47L624.99 81.5L625.44 81.52L625.89 81.55L626.34 81.58L626.79 81.6L627.24 81.63L627.69 81.66L628.14 81.68L628.59 81.71L629.04 81.74L629.49 81.77L629.94 81.79L630.39 81.82L630.84 81.84L631.29 81.86L631.58 81.88L631.74 81.9L632.19 81.92L632.64 81.94L633.09 81.95L633.54 81.97L633.99 81.99L634.44 82.01L634.89 82.02L635.34 82.04L635.79 82.06L636.24 82.08L636.69 82.1L637.14 82.11L637.59 82.13L638.04 82.15L638.49 82.17L638.94 82.19L639.39 82.2L639.84 82.22L640.29 82.24L640.74 82.26L641.19 82.28L641.64 82.29L642.09 82.31L642.54 82.33L642.99 82.35L643.44 82.36L643.89 82.38L644.34 82.39L644.53 82.4L644.79 82.42L645.24 82.43L645.69 82.44L646.14 82.45L646.59 82.46L647.04 82.48L647.49 82.49L647.94 82.5L648.39 82.51L648.84 82.52L649.29 82.53L649.74 82.55L650.19 82.56L650.64 82.57L651.09 82.58L651.54 82.59L651.99 82.61L652.44 82.62L652.89 82.63L653.34 82.64L653.79 82.65L654.24 82.66L654.69 82.68L655.14 82.69L655.59 82.7L656.04 82.71L656.49 82.72L656.94 82.74L657.39 82.75L657.84 82.76L658.29 82.77L658.74 82.78L659.19 82.78L659.3 82.79" stroke="#000" stroke-width="1.0" fill="none" stroke-linejoin="round"/>
<path d="M599.2 29.13L599.55 25.49L599.9 28.78L600.25 29.24L600.6 28.73L600.95 29.09L601.3 26.32L601.65 25.34L601.79 25.92L602 29.22L602.35 28.69L602.7 29.42L603.05 27.67L603.4 29.79L603.75 26.74L604.1 29.61L604.38 27.9L604.45 28.94L604.8 30.61L605.15 31.14L605.5 30.12L605.85 30.21L606.2 32.6L606.55 32.53L606.9 30.85L607.25 32.28L607.6 32L607.95 33.57L608.26 33.29L608.3 33.56L608.65 33.49L609 33.14L609.35 35.08L609.7 34.74L610.05 32.51L610.4 34.69L610.75 35.62L611.1 35.09L611.45 35.3L611.8 35.9L612.15 37.05L612.5 36.36L612.85 37.67L613.2 38.67L613.45 38.63L613.55 38.92L613.9 38.33L614.25 39.5L614.6 38.99L614.95 39.79L615.3 38.86L615.65 40.51L616 39.77L616.35 40.38L616.7 41.16L617.05 40.91L617.4 40.98L617.75 41.38L618.1 42.11L618.45 42.32L618.63 42.36L618.8 42.1L619.15 42.38L619.5 42.89L619.85 43.09L620.2 42.91L620.55 43.13L620.9 43.65L621.25 43.92L621.6 43.92L621.95 43.92L622.3 44.43L622.51 44.4L622.65 44.58L623 44.52L623.35 44.74L623.7 44.89L624.05 45.02L624.4 45.15L624.75 45.28L625.1 45.4L625.45 45.53L625.8 45.63L626.15 45.73L626.4 45.81L626.5 45.87L626.85 45.92L627.2 45.96L627.55 46L627.9 46.03L628.25 46.07L628.6 46.1L628.95 46.14L629.3 46.17L629.65 46.2L630 46.22L630.28 46.24L630.35 46.26L630.7 46.27L631.05 46.27L631.4 46.27L631.75 46.27L632.1 46.27L632.45 46.27L632.8 46.27L633.15 46.27L633.5 46.27L633.85 46.27L634.2 46.27L634.55 46.27L634.9 46.27L635.25 46.27L635.6 46.27L635.95 46.27L636.3 46.27L636.65 46.27L637 46.27L637.35 46.27L637.7 46.27L638.05 46.27L638.4 46.27L638.75 46.27L639.1 46.27L639.45 46.27L639.8 46.27L640.15 46.27L640.5 46.27L640.85 46.27L641.2 46.27L641.55 46.27L641.9 46.27L642.25 46.27L642.6 46.27L642.95 46.27L643.3 46.27L643.65 46.27L644 46.27L644.35 46.27L644.7 46.27L645.05 46.27L645.4 46.27L645.75 46.27L646.1 46.27L646.45 46.27L646.8 46.27L647.15 46.27L647.5 46.27L647.85 46.27L648.2 46.27L648.55 46.27L648.9 46.27L649.25 46.27L649.6 46.27L649.95 46.27L650.3 46.27L650.65 46.27L651 46.27L651.35 46.27L651.7 46.27L652.05 46.27L652.4 46.27L652.75 46.27L653.1 46.27L653.45 46.27L653.8 46.27L654.15 46.27L654.5 46.27L654.85 46.27L655.2 46.27L655.55 46.27L655.9 46.27L656.25 46.27L656.6 46.27L656.95 46.27L657.3 46.27L657.65 46.27L658 46.27L658.35 46.27L658.7 46.27L659.05 46.27L659.3 46.27" stroke="#000" stroke-width="1.0" fill="none" stroke-linejoin="round"/>
<rect x="523.3" y="16.4" width="136.2" height="66.7" fill="none" stroke="#404040" stroke-width="1.0"/>
<path d="M599.2 16.4V58.4H659.5" stroke="#404040" stroke-width="1.0" fill="none"/>
<path d="M605.9 58.4v-1.8M612.6 58.4v-1.8M619.3 58.4v-1.8M626 58.4v-1.8M632.7 58.4v-1.8M639.4 58.4v-1.8M646.1 58.4v-1.8M652.8 58.4v-1.8M599.2 22.7h1.8M599.2 34.5h1.8M599.2 46.3h1.8" stroke="#404040" stroke-width="0.7" fill="none"/>
<path d="M553.6 83.1v-2.2M553.6 16.4v2.2M583.9 83.1v-2.2M583.9 16.4v2.2M614.2 83.1v-2.2M614.2 16.4v2.2M644.5 83.1v-2.2M644.5 16.4v2.2M523.3 56.4h2.2M523.3 29.7h2.2" stroke="#404040" stroke-width="0.7" fill="none"/>
<text x="514.8" y="88.8" text-anchor="end" font-size="14.2" fill="#000" >0</text>
<text x="514.8" y="62.1" text-anchor="end" font-size="14.2" fill="#000" >2</text>
<text x="514.8" y="35.4" text-anchor="end" font-size="14.2" fill="#000" >4</text>
<text x="595.2" y="27.6" text-anchor="end" font-size="13.5" fill="#000" >2</text>
<text x="595.2" y="51.6" text-anchor="end" font-size="13.5" fill="#000" >0</text>
<text x="525.8" y="31.7" text-anchor="start" font-size="13" fill="#000" >Markovian</text>
<text x="501.5" y="50" text-anchor="middle" font-size="14.2" fill="#000" transform="rotate(-90 501.5 50)">&lt;I&gt;</text>
<rect x="582.9" y="108.5" width="76.6" height="41.5" fill="#f2f9f3"/>
<path d="M523.29 172.18L523.59 172.16L523.89 172.27L524.19 172.45L524.49 172.35L524.79 172.39L525.09 172.59L525.39 172.85L525.69 172.65L525.88 172.93L525.99 172.95L526.29 172.88L526.59 172.89L526.89 172.86L527.19 173L527.49 173.23L527.79 173.36L527.95 173.22L528.09 173.21L528.39 173.12L528.69 173.43L528.99 172.9L529.29 172.81L529.59 173.04L529.89 172.72L530.03 172.88L530.19 172.49L530.49 172.46L530.79 172.2L531.09 171.68L531.39 171.43L531.69 171.07L531.84 170.92L531.99 170.07L532.29 168.89L532.59 167.73L532.89 166.49L533.13 165.47L533.19 163.97L533.49 162.11L533.79 159.14L534.09 157.02L534.17 154.73L534.39 151.76L534.69 147.22L534.99 142.76L535.21 139.39L535.29 135.81L535.59 132.55L535.73 129.56L535.89 126.7L536.19 125.13L536.24 124.84L536.49 126.28L536.76 128.15L536.79 131.34L537.09 134.72L537.28 138.46L537.39 142.04L537.69 146.33L537.99 150.54L538.06 153.41L538.29 155.99L538.59 159.29L538.83 161.39L538.89 163.02L539.19 164.29L539.49 166.07L539.79 167.37L539.87 168.48L540.09 169.07L540.39 169.75L540.69 170.08L540.91 170.98L540.99 171.24L541.29 171.56L541.59 171.6L541.89 171.62L541.94 171.85L542.19 171.91L542.49 172.26L542.79 171.93L542.98 171.93L543.09 171.99L543.39 171.79L543.69 171.54L543.99 171.12L544.29 171.17L544.53 170.82L544.59 170.44L544.89 170.3L545.19 169.68L545.49 169.3L545.79 168.97L546.09 168.64L546.09 168.38L546.39 167.93L546.69 167.31L546.99 166.62L547.29 166.21L547.59 165.31L547.89 164.93L547.9 164.52L548.19 164.26L548.49 163.73L548.79 163.69L549.09 162.95L549.39 162.63L549.69 162.05L549.97 161.64L549.99 161.51L550.29 161.32L550.59 161.02L550.89 160.94L551.19 160.94L551.27 160.68L551.49 160.8L551.79 160.88L552.09 160.56L552.39 161.07L552.56 160.76L552.69 161.32L552.99 161.42L553.29 161.83L553.59 162.37L553.86 162.48L553.89 162.58L554.19 163.13L554.49 164.03L554.79 164.94L554.9 165.45L555.09 166.2L555.39 167.07L555.69 168.14L555.93 168.56L555.99 169.06L556.29 169.79L556.59 170.6L556.71 170.68L556.89 170.41L557.19 170.28L557.49 170.16L557.49 169.9L557.79 169.6L558.09 169.28L558.39 168.85L558.52 168.94L558.69 169.08L558.99 168.73L559.29 168.91L559.59 168.49L559.89 168.51L560.19 168.43L560.49 168.43L560.6 168.17L560.79 168.5L561.09 168.29L561.39 168.03L561.69 168.34L561.99 168.24L562.29 168.04L562.59 168.14L562.89 168.23L562.93 168.21L563.19 168.16L563.49 168.04L563.79 168.16L564.09 168.28L564.39 168.39L564.69 168.21L564.99 168.23L565.29 168.25L565.59 168.1L565.89 167.92L566.19 168.06L566.49 168.11L566.79 168.15L566.81 168.14L567.09 168.09L567.39 168.16L567.69 168.26L567.99 168.23L568.29 168.3L568.59 168.25L568.89 168.47L569.19 168.57L569.4 168.52L569.49 168.62L569.79 168.73L570.09 168.67L570.39 168.82L570.69 168.87L570.99 169.13L571.29 169.03L571.59 169.26L571.89 169.08L571.99 169.59L572.19 169.5L572.49 169.41L572.79 169.59L573.09 169.9L573.39 169.77L573.69 169.66L573.99 169.92L574.29 169.95L574.59 170.15L574.89 170.19L575.19 170.06L575.49 170.37L575.79 170.52L575.88 170.62L576.09 170.54L576.39 170.78L576.69 170.79L576.99 170.77L577.29 170.92L577.59 170.5L577.89 171.01L578.19 171.09L578.49 170.97L578.79 171.14L579.09 171.02L579.39 171.14L579.69 171.18L579.77 171.12L579.99 171.25L580.29 171.11L580.59 171.35L580.89 171.62L581.19 171.69L581.49 171.51L581.79 171.77L582.09 171.66L582.39 171.5L582.69 171.63L582.99 171.75L583.29 171.8L583.59 171.93L583.89 171.81L584.19 171.9L584.49 172.12L584.79 172.06L585.09 172.14L585.39 172.13L585.69 172.27L585.99 172.32L586.24 172.17L586.29 172.43L586.59 172.24L586.89 172.39L587.19 172.34L587.49 172.48L587.79 172.47L588.09 172.53L588.39 172.51L588.69 172.51L588.99 172.58L589.29 172.58L589.59 172.51L589.89 172.46L590.19 172.74L590.49 172.86L590.79 172.62L591.09 172.82L591.39 172.72L591.69 172.85L591.99 172.96L592.29 172.93L592.59 172.88L592.72 172.69L592.89 172.92L593.19 172.96L593.49 173.13L593.79 172.92L594.09 173.01L594.39 173.07L594.69 173.21L594.99 172.94L595.29 173.2L595.59 173.11L595.89 173.07L596.19 173L596.49 173.07L596.79 173.31L597.09 173.17L597.39 173.14L597.69 173.22L597.99 173.45L598.29 173.43L598.59 173.43L598.89 173.47L599.19 173.47L599.49 173.35L599.79 173.29L600.09 173.59L600.39 173.45L600.69 173.5L600.99 173.45L601.29 173.59L601.59 173.71L601.89 173.52L602.19 173.61L602.49 173.62L602.79 173.71L603.09 173.65L603.39 173.68L603.69 173.62L603.99 173.72L604.29 173.65L604.59 173.85L604.89 173.76L605.19 174L605.49 173.74L605.67 173.71L605.79 173.95L606.09 173.92L606.39 173.69L606.69 174.18L606.99 173.85L607.29 174.02L607.59 173.85L607.89 173.98L608.19 174.04L608.49 173.86L608.79 173.97L609.09 174.04L609.39 174.19L609.69 174.07L609.99 174.13L610.29 174.05L610.59 174.07L610.89 174.06L611.19 173.98L611.49 173.8L611.79 173.82L612.09 174.07L612.39 174.1L612.69 174.06L612.99 173.99L613.29 174.01L613.59 173.92L613.89 174.22L614.19 173.89L614.49 174.29L614.79 174.06L615.09 174.42L615.39 174.18L615.69 174.1L615.99 174.16L616.29 174.09L616.59 174.34L616.89 174.17L617.19 174.21L617.49 174.08L617.79 174.26L618.09 174.03L618.39 174.13L618.63 174.37L618.69 173.97L618.99 174.26L619.29 174.37L619.59 174.24L619.89 174.41L620.19 174.39L620.49 174.3L620.79 174.06L621.09 174.19L621.39 174.21L621.69 174.37L621.99 174.25L622.29 174.23L622.59 174.11L622.89 174.24L623.19 174.3L623.49 173.98L623.79 174.27L624.09 174.32L624.39 174.25L624.69 174.27L624.99 174.22L625.29 174.4L625.59 174.23L625.89 174.44L626.19 174.34L626.49 174.08L626.79 174.27L627.09 174.35L627.39 174.42L627.69 174.33L627.99 174.31L628.29 174.42L628.59 174.52L628.89 174.12L629.19 174.27L629.49 174.54L629.79 174.38L630.09 174.24L630.39 174.56L630.69 174.59L630.99 174.34L631.29 174.46L631.59 174.37L631.89 174.42L632.19 174.5L632.49 174.35L632.79 174.38L633.09 174.35L633.39 174.19L633.69 174.45L633.99 174.5L634.29 174.42L634.59 174.41L634.89 174.51L635.19 174.33L635.49 174.29L635.79 174.48L636.09 174.45L636.39 174.64L636.69 174.27L636.99 174.43L637.29 174.3L637.59 174.7L637.89 174.4L638.19 174.55L638.49 174.19L638.79 174.35L639.09 174.56L639.35 174.42L639.39 174.4L639.69 174.55L639.99 174.49L640.29 174.49L640.59 174.51L640.89 174.42L641.19 174.66L641.49 174.61L641.79 174.47L642.09 174.45L642.39 174.27L642.69 174.36L642.99 174.65L643.29 174.36L643.59 174.45L643.89 174.7L644.19 174.63L644.49 174.55L644.79 174.56L645.09 174.47L645.39 174.53L645.69 174.52L645.99 174.67L646.29 174.61L646.59 174.43L646.89 174.69L647.19 174.63L647.49 174.66L647.79 174.68L648.09 174.63L648.39 174.56L648.69 174.69L648.99 174.68L649.29 174.52L649.59 174.53L649.89 174.58L650.19 174.61L650.49 174.55L650.79 174.39L651.09 174.7L651.39 174.48L651.69 174.43L651.99 174.46L652.29 174.57L652.59 174.54L652.89 174.29L653.19 174.38L653.49 174.38L653.79 174.48L654.09 174.59L654.39 174.5L654.69 174.81L654.99 174.68L655.29 174.75L655.59 174.67L655.89 174.44L656.19 174.64L656.49 174.42L656.79 174.47L657.09 174.62L657.39 174.6L657.69 174.67L657.99 174.57L658.29 174.73L658.59 174.7L658.89 174.65L659.19 174.53L659.3 174.55" stroke="#009e73" stroke-width="0.95" fill="none" stroke-linejoin="round"/>
<path d="M599.2 146.89L599.45 146.89L599.7 146.89L599.95 146.89L600.2 146.89L600.45 146.89L600.7 146.89L600.95 146.89L601.2 146.89L601.45 146.89L601.7 146.89L601.95 146.89L602.2 146.89L602.45 146.89L602.7 146.89L602.95 146.89L603.2 146.89L603.45 146.89L603.6 146.89L603.7 146.75L603.95 146.4L604.2 146.04L604.45 145.68L604.51 145.6L604.7 141.25L604.95 135.5L605.03 133.68L605.2 126.61L605.41 117.62L605.45 118.96L605.7 129.29L605.8 133.68L605.95 136.55L606.2 141.55L606.32 144.04L606.45 144.26L606.7 144.71L606.95 145.15L607.2 145.6L607.45 146.04L607.49 146.11L607.7 146.07L607.95 146.01L608.2 145.96L608.45 145.9L608.7 145.85L608.95 145.79L609.2 145.73L609.45 145.68L609.7 145.62L609.82 145.6L609.95 145.47L610.2 145.22L610.45 144.97L610.7 144.72L610.95 144.47L611.2 144.22L611.37 144.04L611.45 144L611.7 143.88L611.95 143.75L612.2 143.63L612.41 143.52L612.45 143.55L612.7 143.75L612.95 143.95L613.2 144.15L613.45 144.35L613.7 144.55L613.7 144.56L613.95 144.73L614.2 144.91L614.45 145.09L614.7 145.27L614.95 145.45L615.2 145.63L615.45 145.8L615.52 145.85L615.7 145.88L615.95 145.93L616.2 145.97L616.45 146.01L616.7 146.05L616.95 146.09L617.2 146.13L617.45 146.18L617.7 146.22L617.95 146.26L618.2 146.3L618.45 146.34L618.63 146.37L618.7 146.38L618.95 146.38L619.2 146.39L619.45 146.4L619.7 146.41L619.95 146.42L620.2 146.43L620.45 146.43L620.7 146.44L620.95 146.45L621.2 146.46L621.45 146.47L621.7 146.48L621.95 146.48L622.2 146.49L622.45 146.5L622.7 146.51L622.95 146.52L623.2 146.53L623.45 146.53L623.7 146.54L623.95 146.55L624.2 146.56L624.45 146.57L624.7 146.58L624.95 146.58L625.2 146.59L625.45 146.6L625.7 146.61L625.95 146.62L626.2 146.63L626.4 146.63L626.45 146.63L626.7 146.63L626.95 146.63L627.2 146.64L627.45 146.64L627.7 146.64L627.95 146.64L628.2 146.64L628.45 146.64L628.7 146.64L628.95 146.64L629.2 146.64L629.45 146.64L629.7 146.65L629.95 146.65L630.2 146.65L630.45 146.65L630.7 146.65L630.95 146.65L631.2 146.65L631.45 146.65L631.7 146.65L631.95 146.65L632.2 146.65L632.45 146.66L632.7 146.66L632.95 146.66L633.2 146.66L633.45 146.66L633.7 146.66L633.95 146.66L634.2 146.66L634.45 146.66L634.7 146.66L634.95 146.67L635.2 146.67L635.45 146.67L635.7 146.67L635.95 146.67L636.2 146.67L636.45 146.67L636.7 146.67L636.95 146.67L637.2 146.67L637.45 146.68L637.7 146.68L637.95 146.68L638.2 146.68L638.45 146.68L638.7 146.68L638.95 146.68L639.2 146.68L639.45 146.68L639.7 146.68L639.95 146.69L640.2 146.69L640.45 146.69L640.7 146.69L640.95 146.69L641.2 146.69L641.45 146.69L641.7 146.69L641.95 146.69L642.2 146.69L642.45 146.7L642.7 146.7L642.95 146.7L643.2 146.7L643.45 146.7L643.7 146.7L643.95 146.7L644.2 146.7L644.45 146.7L644.7 146.7L644.95 146.71L645.2 146.71L645.45 146.71L645.7 146.71L645.95 146.71L646.2 146.71L646.45 146.71L646.7 146.71L646.95 146.71L647.2 146.71L647.45 146.71L647.7 146.72L647.95 146.72L648.2 146.72L648.45 146.72L648.7 146.72L648.95 146.72L649.2 146.72L649.45 146.72L649.7 146.72L649.95 146.72L650.2 146.73L650.45 146.73L650.7 146.73L650.95 146.73L651.2 146.73L651.45 146.73L651.7 146.73L651.95 146.73L652.2 146.73L652.45 146.73L652.7 146.74L652.95 146.74L653.2 146.74L653.45 146.74L653.7 146.74L653.95 146.74L654.2 146.74L654.45 146.74L654.7 146.74L654.95 146.74L655.2 146.75L655.45 146.75L655.7 146.75L655.95 146.75L656.2 146.75L656.45 146.75L656.7 146.75L656.95 146.75L657.2 146.75L657.45 146.75L657.7 146.76L657.95 146.76L658.2 146.76L658.45 146.76L658.7 146.76L658.95 146.76L659.2 146.76L659.3 146.76" stroke="#009e73" stroke-width="0.95" fill="none" stroke-linejoin="round"/>
<rect x="523.3" y="108.5" width="136.2" height="66.4" fill="none" stroke="#404040" stroke-width="1.0"/>
<path d="M599.2 108.5V150H659.5" stroke="#404040" stroke-width="1.0" fill="none"/>
<path d="M605.9 150v-1.8M612.6 150v-1.8M619.3 150v-1.8M626 150v-1.8M632.7 150v-1.8M639.4 150v-1.8M646.1 150v-1.8M652.8 150v-1.8M599.2 115.5h1.8M599.2 131h1.8M599.2 146.6h1.8" stroke="#404040" stroke-width="0.7" fill="none"/>
<path d="M553.6 174.9v-2.2M553.6 108.5v2.2M583.9 174.9v-2.2M583.9 108.5v2.2M614.2 174.9v-2.2M614.2 108.5v2.2M644.5 174.9v-2.2M644.5 108.5v2.2M523.3 145.92h2.2M523.3 116.94h2.2" stroke="#404040" stroke-width="0.7" fill="none"/>
<text x="519.3" y="180.6" text-anchor="end" font-size="14.2" fill="#000" >0</text>
<text x="519.3" y="151.62" text-anchor="end" font-size="14.2" fill="#000" >7</text>
<text x="519.3" y="122.64" text-anchor="end" font-size="14.2" fill="#000" >14</text>
<text x="596.3" y="120.2" text-anchor="end" font-size="14.2" fill="#000" >15</text>
<text x="596.3" y="151.3" text-anchor="end" font-size="14.2" fill="#000" >0</text>
<text x="544" y="122.6" text-anchor="start" font-size="14.2" fill="#009e73" >M=7</text>
<text x="495.2" y="142" text-anchor="middle" font-size="14.2" fill="#000" transform="rotate(-90 495.2 142)">&lt;I&gt;</text>
<rect x="575.1" y="202.0" width="84.4" height="41.7" fill="#fff1f1"/>
<path d="M523.29 268.12L523.59 268.59L523.89 267.54L524.19 267.67L524.49 267.29L524.79 266.76L525.09 267.6L525.39 267.4L525.69 267.48L525.99 267.03L526.29 266.9L526.59 267.52L526.89 266.74L527.19 267.15L527.49 267.16L527.79 266.81L527.95 266.61L528.09 266.81L528.39 266.13L528.69 266.49L528.99 266.38L529.29 266L529.59 266.25L529.89 266.52L530.19 266.86L530.49 265.77L530.79 266.14L531.09 266.06L531.39 265.77L531.69 265.61L531.84 265.88L531.99 265.91L532.29 265.19L532.59 265.98L532.89 265.41L533.19 265.4L533.49 265.12L533.79 265.57L534.09 264.73L534.39 264.9L534.69 265L534.69 264.68L534.99 264.08L535.29 263.5L535.47 263.23L535.59 257.75L535.89 245.37L535.98 241.78L536.19 225.22L536.24 220.61L536.49 234.32L536.63 241.55L536.79 247.85L537.09 260.7L537.15 263.05L537.39 263.28L537.69 264.49L537.8 264.36L537.99 264.41L538.29 264.29L538.59 264.85L538.89 264.57L539.19 264.79L539.49 264.25L539.79 264.52L540.09 264.16L540.39 264.47L540.69 264.55L540.91 264.62L540.99 264.22L541.29 264.97L541.59 264.16L541.89 264.97L542.19 264.57L542.49 264.9L542.79 264.28L543.09 264.6L543.39 264.72L543.69 265.18L543.99 264.65L544.29 265.03L544.59 264.61L544.89 264.91L545.19 264.49L545.49 264.51L545.79 264.75L546.09 264.09L546.09 263.99L546.39 264.51L546.69 265.09L546.99 264.89L547.29 264.48L547.59 264.63L547.89 264.51L548.19 264.56L548.49 264.86L548.79 264.1L549.09 264.08L549.39 263.86L549.69 264.16L549.99 264.72L550.29 264.39L550.59 264.02L550.89 264.21L551.19 264.25L551.49 264.69L551.79 264.53L552.09 264.5L552.39 264.74L552.69 264.53L552.99 264.69L553.29 264.13L553.59 264.08L553.86 264.25L553.89 264.96L554.19 264.05L554.49 264.47L554.79 264.6L555.09 264.19L555.39 264.14L555.69 265.14L555.99 264.52L556.29 264.48L556.59 264.73L556.89 264.68L557.19 264.25L557.49 264.19L557.79 264.67L558.09 264.53L558.39 264.77L558.69 264.46L558.99 265.6L559.29 265.01L559.59 265.5L559.89 264.8L560.19 264.94L560.34 264.85L560.49 265.02L560.79 265.15L561.09 264.88L561.39 264.74L561.69 264.86L561.99 265.01L562.29 265.33L562.59 264.63L562.89 264.87L563.19 265.23L563.49 265.52L563.79 265L564.09 265.23L564.39 265.1L564.69 265.09L564.99 265.22L565.29 265.04L565.59 265.14L565.78 265.12L565.89 265.39L566.19 264.17L566.3 264.4L566.49 264.42L566.79 265.32L566.81 265.09L567.09 265.42L567.39 265.8L567.69 265.89L567.99 265.12L568.29 266.19L568.59 265.59L568.89 265.67L569.19 265.84L569.49 265.59L569.79 265.35L570.09 265.65L570.39 265.55L570.69 266.25L570.99 265.72L571.29 265.08L571.59 266.16L571.89 265.97L572.19 265.81L572.49 265.29L572.79 266.83L573.09 265.8L573.39 265.82L573.69 265.78L573.99 266.03L574.29 265.98L574.59 266.13L574.89 266.2L575.19 266.09L575.49 266.44L575.79 265.84L576.09 266.45L576.39 266.31L576.69 266.23L576.99 266.47L577.29 266.36L577.59 266.37L577.89 266.2L578.19 266.11L578.49 265.95L578.79 266.05L579.09 266.25L579.39 266.7L579.69 266.42L579.77 266.54L579.99 266.2L580.29 266.08L580.59 266.57L580.89 267.25L581.19 266.25L581.49 266.98L581.79 266.27L582.09 266.27L582.39 266.37L582.69 266.41L582.99 266.91L583.29 266.74L583.59 266.73L583.89 266.56L584.19 267.01L584.49 267.29L584.79 266.86L585.09 266.69L585.39 266.51L585.69 266.74L585.99 266.49L586.29 267.27L586.59 266.67L586.89 267.25L587.19 266.58L587.49 267.21L587.79 267.15L588.09 267.22L588.39 267.11L588.69 266.73L588.99 267.85L589.29 266.66L589.59 267.42L589.89 267.05L590.19 266.8L590.49 267.38L590.79 267.58L591.09 267.48L591.39 266.8L591.69 266.99L591.99 267.4L592.29 267.36L592.59 267.54L592.72 267.21L592.89 266.75L593.19 266.91L593.49 267.35L593.79 266.97L594.09 266.88L594.39 267.47L594.69 267.7L594.99 267.11L595.29 267.25L595.59 267.28L595.89 267.59L596.19 267.26L596.49 267.26L596.79 267.33L597.09 267L597.39 267.75L597.69 267.82L597.99 267.4L598.29 267.43L598.59 267.46L598.89 267.42L599.19 267.2L599.49 267.62L599.79 267.64L600.09 267.74L600.39 267.16L600.69 267.51L600.99 267.07L601.29 268L601.59 267.03L601.89 267.44L602.19 267.94L602.49 266.98L602.79 267.54L603.09 267.01L603.39 267.78L603.69 267.41L603.99 267.36L604.29 267.26L604.59 267.7L604.89 267.59L605.19 267.77L605.49 267.81L605.79 267.41L606.09 267.67L606.39 267.98L606.69 267.76L606.99 267.74L607.29 267.67L607.59 267.51L607.89 267.66L608.19 267.65L608.49 268.4L608.79 267.6L609.09 267.4L609.39 267.81L609.69 267.64L609.99 267.53L610.29 267.96L610.59 267.68L610.89 267.5L611.19 267.91L611.49 268.33L611.79 268.15L612.09 267.84L612.39 267.87L612.69 267.77L612.99 268L613.29 267.74L613.59 267.91L613.89 267.77L614.19 267.88L614.49 267.24L614.79 267.83L615.09 267.68L615.39 267.75L615.69 267.96L615.99 267.49L616.29 267.61L616.59 267.92L616.89 267.9L617.19 268.16L617.49 268L617.79 267.43L618.09 268.03L618.39 267.87L618.63 267.96L618.69 268.22L618.99 267.96L619.29 267.87L619.59 267.46L619.89 267.81L620.19 268.18L620.49 268.1L620.79 267.59L621.09 267.54L621.39 267.83L621.69 268.08L621.99 267.74L622.29 268.35L622.59 268.59L622.89 267.63L623.19 268.56L623.49 268.54L623.79 267.37L624.09 267.49L624.39 267.93L624.69 267.97L624.99 267.72L625.29 267.98L625.59 268.21L625.89 267.72L626.19 267.32L626.49 267.89L626.79 268.22L627.09 268.43L627.39 268.31L627.69 267.18L627.99 267.65L628.29 267.97L628.59 267.75L628.89 268.17L629.19 268.15L629.49 268.28L629.79 268.45L630.09 267.87L630.39 268.55L630.69 267.62L630.99 267.73L631.29 267.72L631.59 267.79L631.89 268.25L632.19 268.55L632.49 267.62L632.79 268.28L633.09 268.43L633.39 268.16L633.69 267.48L633.99 268.22L634.29 268.35L634.59 267.56L634.89 267.95L635.19 268.41L635.49 268.21L635.79 268.45L636.09 268.49L636.39 267.74L636.69 267.76L636.99 268.39L637.29 268.03L637.59 268.38L637.89 268.3L638.19 267.89L638.49 268.41L638.79 268.26L639.09 267.94L639.39 267.98L639.69 267.96L639.99 268.22L640.29 268.41L640.59 268.29L640.89 268.08L641.19 267.72L641.49 268.16L641.79 268.1L642.09 267.93L642.39 267.87L642.69 268.6L642.99 268.58L643.29 267.72L643.59 268.43L643.89 268.25L644.19 268.67L644.49 267.9L644.79 268.43L645.09 267.98L645.39 268.07L645.69 268.21L645.99 268.43L646.29 268.19L646.59 267.69L646.89 268.4L647.19 268.15L647.49 268.08L647.79 267.64L648.09 268.03L648.39 268.51L648.69 268.54L648.99 268.31L649.29 267.91L649.59 268.4L649.89 267.92L650.19 268.41L650.49 268.02L650.79 267.73L651.09 268.32L651.39 268.25L651.69 268.25L651.99 267.93L652.29 267.89L652.59 268.53L652.89 268.19L653.19 268.69L653.49 268.7L653.79 267.89L654.09 268.11L654.39 267.35L654.69 268.2L654.99 268.02L655.29 268.29L655.59 268.12L655.89 268.07L656.19 267.99L656.49 268L656.79 268.6L657.09 268.43L657.39 268.88L657.69 268.49L657.99 268.14L658.29 268.11L658.59 268.74L658.89 267.7L659.19 268.3L659.3 268.22" stroke="#ff0000" stroke-width="0.85" fill="none" stroke-linejoin="round"/>
<path d="M599.2 238.52L605.05 238.52L605.26 233.86L605.41 207.44L605.57 233.86L605.78 238.52L659.3 238.65" stroke="#ff0000" stroke-width="0.7" fill="none" stroke-linejoin="round"/>
<rect x="523.3" y="202" width="136.2" height="66.5" fill="none" stroke="#404040" stroke-width="1.0"/>
<path d="M599.2 202.0V243.7H659.5" stroke="#404040" stroke-width="1.0" fill="none"/>
<path d="M605.9 243.7v-1.8M612.6 243.7v-1.8M619.3 243.7v-1.8M626 243.7v-1.8M632.7 243.7v-1.8M639.4 243.7v-1.8M646.1 243.7v-1.8M652.8 243.7v-1.8M599.2 207.3h1.8M599.2 223h1.8M599.2 238.6h1.8" stroke="#404040" stroke-width="0.7" fill="none"/>
<path d="M557.3 268.5v-2.2M557.3 202v2.2M591.3 268.5v-2.2M591.3 202v2.2M625.3 268.5v-2.2M625.3 202v2.2M523.3 240.38h2.2M523.3 212.25h2.2" stroke="#404040" stroke-width="0.7" fill="none"/>
<text x="519.3" y="274.2" text-anchor="end" font-size="14.2" fill="#000" >0</text>
<text x="519.3" y="246.07" text-anchor="end" font-size="14.2" fill="#000" >15</text>
<text x="519.3" y="217.95" text-anchor="end" font-size="14.2" fill="#000" >30</text>
<text x="596.3" y="212" text-anchor="end" font-size="14.2" fill="#000" >180</text>
<text x="596.3" y="243.7" text-anchor="end" font-size="14.2" fill="#000" >0</text>
<text x="544" y="216.4" text-anchor="start" font-size="14.2" fill="#ff0000" >M=5</text>
<text x="495.2" y="235" text-anchor="middle" font-size="14.2" fill="#000" transform="rotate(-90 495.2 235)">&lt;I&gt;</text>
<text x="523.3" y="288.3" text-anchor="middle" font-size="14.2" fill="#000" >0</text>
<text x="591.2" y="288.3" text-anchor="middle" font-size="15" fill="#000" >π</text>
<text x="659.2" y="288.3" text-anchor="middle" font-size="14.2" fill="#000" >2<tspan font-size="15">π</tspan></text>
<text x="591.3" y="308.2" text-anchor="middle" font-size="16.5" fill="#000" >β</text>
<text x="825" y="10.2" text-anchor="middle" font-size="14.2" fill="#000" >(c)</text>
<circle cx="716.8" cy="17.18" r="1.9" fill="#000000"/>
<circle cx="718.69" cy="22.53" r="1.9" fill="#000000"/>
<circle cx="720.58" cy="28.24" r="1.9" fill="#000000"/>
<circle cx="722.47" cy="31.2" r="1.9" fill="#000000"/>
<circle cx="724.36" cy="33.94" r="1.9" fill="#000000"/>
<circle cx="726.25" cy="36.64" r="1.9" fill="#000000"/>
<circle cx="728.15" cy="39.37" r="1.9" fill="#000000"/>
<circle cx="730.04" cy="42.12" r="1.9" fill="#000000"/>
<circle cx="731.93" cy="44.84" r="1.9" fill="#000000"/>
<circle cx="733.82" cy="47.53" r="1.9" fill="#000000"/>
<circle cx="735.71" cy="50.2" r="1.9" fill="#000000"/>
<circle cx="737.6" cy="52.82" r="1.9" fill="#000000"/>
<circle cx="739.49" cy="55.5" r="1.9" fill="#000000"/>
<circle cx="741.38" cy="58.25" r="1.9" fill="#000000"/>
<circle cx="743.27" cy="60.94" r="1.9" fill="#000000"/>
<circle cx="745.16" cy="63.44" r="1.9" fill="#000000"/>
<circle cx="747.05" cy="66.19" r="1.9" fill="#000000"/>
<circle cx="748.94" cy="68.87" r="1.9" fill="#000000"/>
<circle cx="750.84" cy="70.72" r="1.9" fill="#000000"/>
<circle cx="752.73" cy="72.69" r="1.9" fill="#000000"/>
<circle cx="754.62" cy="74.53" r="1.9" fill="#000000"/>
<circle cx="756.51" cy="76.42" r="1.9" fill="#000000"/>
<circle cx="758.4" cy="78.83" r="1.9" fill="#000000"/>
<circle cx="760.29" cy="80.87" r="1.9" fill="#000000"/>
<circle cx="762.18" cy="82.99" r="1.9" fill="#000000"/>
<circle cx="764.07" cy="85.09" r="1.9" fill="#000000"/>
<circle cx="765.96" cy="87.81" r="1.9" fill="#000000"/>
<circle cx="767.85" cy="89.73" r="1.9" fill="#000000"/>
<circle cx="769.74" cy="90.53" r="1.9" fill="#000000"/>
<circle cx="771.63" cy="93.52" r="1.9" fill="#000000"/>
<circle cx="773.53" cy="95.28" r="1.9" fill="#000000"/>
<circle cx="775.42" cy="96.85" r="1.9" fill="#000000"/>
<circle cx="777.31" cy="99.63" r="1.9" fill="#000000"/>
<circle cx="779.2" cy="100.88" r="1.9" fill="#000000"/>
<circle cx="781.09" cy="104.24" r="1.9" fill="#000000"/>
<circle cx="782.98" cy="107.14" r="1.9" fill="#000000"/>
<circle cx="784.5" cy="106.5" r="1.9" fill="#000000"/>
<circle cx="786.2" cy="109.6" r="1.9" fill="#000000"/>
<circle cx="788" cy="110" r="1.9" fill="#000000"/>
<circle cx="790" cy="111.5" r="1.9" fill="#000000"/>
<circle cx="791.2" cy="114.2" r="1.9" fill="#000000"/>
<circle cx="793" cy="112.5" r="1.9" fill="#000000"/>
<circle cx="795" cy="124.3" r="1.9" fill="#000000"/>
<circle cx="797" cy="120.5" r="1.9" fill="#000000"/>
<circle cx="798.8" cy="121.8" r="1.9" fill="#000000"/>
<circle cx="800.5" cy="123.5" r="1.9" fill="#000000"/>
<circle cx="803.8" cy="127.6" r="1.9" fill="#000000"/>
<circle cx="808.4" cy="123.5" r="1.9" fill="#000000"/>
<circle cx="810.9" cy="128.6" r="1.9" fill="#000000"/>
<circle cx="716.8" cy="15.2" r="1.6" fill="none" stroke="#009e73" stroke-width="0.6"/>
<circle cx="718.92" cy="23.75" r="1.6" fill="none" stroke="#009e73" stroke-width="0.6"/>
<circle cx="721.05" cy="29.54" r="1.6" fill="none" stroke="#009e73" stroke-width="0.6"/>
<circle cx="723.17" cy="32.84" r="1.6" fill="none" stroke="#009e73" stroke-width="0.6"/>
<circle cx="725.29" cy="35.89" r="1.6" fill="none" stroke="#009e73" stroke-width="0.6"/>
<circle cx="727.42" cy="38.91" r="1.6" fill="none" stroke="#009e73" stroke-width="0.6"/>
<circle cx="729.54" cy="41.91" r="1.6" fill="none" stroke="#009e73" stroke-width="0.6"/>
<circle cx="731.66" cy="44.92" r="1.6" fill="none" stroke="#009e73" stroke-width="0.6"/>
<circle cx="733.79" cy="47.81" r="1.6" fill="none" stroke="#009e73" stroke-width="0.6"/>
<circle cx="735.91" cy="50.72" r="1.6" fill="none" stroke="#009e73" stroke-width="0.6"/>
<circle cx="738.04" cy="53.55" r="1.6" fill="none" stroke="#009e73" stroke-width="0.6"/>
<circle cx="740.16" cy="56.44" r="1.6" fill="none" stroke="#009e73" stroke-width="0.6"/>
<circle cx="742.28" cy="59.36" r="1.6" fill="none" stroke="#009e73" stroke-width="0.6"/>
<circle cx="744.41" cy="62.18" r="1.6" fill="none" stroke="#009e73" stroke-width="0.6"/>
<circle cx="746.53" cy="65.11" r="1.6" fill="none" stroke="#009e73" stroke-width="0.6"/>
<circle cx="748.65" cy="68.07" r="1.6" fill="none" stroke="#009e73" stroke-width="0.6"/>
<circle cx="750.78" cy="69.99" r="1.6" fill="none" stroke="#009e73" stroke-width="0.6"/>
<circle cx="752.9" cy="72.21" r="1.6" fill="none" stroke="#009e73" stroke-width="0.6"/>
<circle cx="755.02" cy="73.99" r="1.6" fill="none" stroke="#009e73" stroke-width="0.6"/>
<circle cx="757.15" cy="76.19" r="1.6" fill="none" stroke="#009e73" stroke-width="0.6"/>
<circle cx="759.27" cy="78.27" r="1.6" fill="none" stroke="#009e73" stroke-width="0.6"/>
<circle cx="761.39" cy="80.34" r="1.6" fill="none" stroke="#009e73" stroke-width="0.6"/>
<circle cx="763.52" cy="81.64" r="1.6" fill="none" stroke="#009e73" stroke-width="0.6"/>
<circle cx="765.64" cy="83.82" r="1.6" fill="none" stroke="#009e73" stroke-width="0.6"/>
<circle cx="767.77" cy="85.73" r="1.6" fill="none" stroke="#009e73" stroke-width="0.6"/>
<circle cx="769.89" cy="87.51" r="1.6" fill="none" stroke="#009e73" stroke-width="0.6"/>
<circle cx="772.01" cy="88.9" r="1.6" fill="none" stroke="#009e73" stroke-width="0.6"/>
<circle cx="774.14" cy="90.72" r="1.6" fill="none" stroke="#009e73" stroke-width="0.6"/>
<circle cx="776.26" cy="92.44" r="1.6" fill="none" stroke="#009e73" stroke-width="0.6"/>
<circle cx="778.38" cy="94.17" r="1.6" fill="none" stroke="#009e73" stroke-width="0.6"/>
<circle cx="780.51" cy="94.78" r="1.6" fill="none" stroke="#009e73" stroke-width="0.6"/>
<circle cx="782.63" cy="98.63" r="1.6" fill="none" stroke="#009e73" stroke-width="0.6"/>
<circle cx="784.75" cy="100.91" r="1.6" fill="none" stroke="#009e73" stroke-width="0.6"/>
<circle cx="786.88" cy="102.94" r="1.6" fill="none" stroke="#009e73" stroke-width="0.6"/>
<circle cx="789" cy="106.14" r="1.6" fill="none" stroke="#009e73" stroke-width="0.6"/>
<circle cx="791.12" cy="106.79" r="1.6" fill="none" stroke="#009e73" stroke-width="0.6"/>
<circle cx="793.25" cy="107.89" r="1.6" fill="none" stroke="#009e73" stroke-width="0.6"/>
<circle cx="796" cy="110.5" r="1.6" fill="none" stroke="#009e73" stroke-width="0.6"/>
<circle cx="798" cy="113" r="1.6" fill="none" stroke="#009e73" stroke-width="0.6"/>
<circle cx="800" cy="113.5" r="1.6" fill="none" stroke="#009e73" stroke-width="0.6"/>
<circle cx="801.3" cy="115.5" r="1.6" fill="none" stroke="#009e73" stroke-width="0.6"/>
<circle cx="803.5" cy="117" r="1.6" fill="none" stroke="#009e73" stroke-width="0.6"/>
<circle cx="806" cy="116.5" r="1.6" fill="none" stroke="#009e73" stroke-width="0.6"/>
<circle cx="808" cy="119" r="1.6" fill="none" stroke="#009e73" stroke-width="0.6"/>
<circle cx="810" cy="118" r="1.6" fill="none" stroke="#009e73" stroke-width="0.6"/>
<circle cx="811.4" cy="121.8" r="1.6" fill="none" stroke="#009e73" stroke-width="0.6"/>
<circle cx="813.5" cy="120" r="1.6" fill="none" stroke="#009e73" stroke-width="0.6"/>
<circle cx="815.2" cy="124.3" r="1.6" fill="none" stroke="#009e73" stroke-width="0.6"/>
<circle cx="816.5" cy="120.5" r="1.6" fill="none" stroke="#009e73" stroke-width="0.6"/>
<circle cx="818" cy="120.5" r="1.6" fill="none" stroke="#009e73" stroke-width="0.6"/>
<circle cx="816" cy="123.5" r="1.6" fill="none" stroke="#009e73" stroke-width="0.6"/>
<circle cx="822.8" cy="128.6" r="1.6" fill="none" stroke="#009e73" stroke-width="0.6"/>
<path d="M716.8 13.1l2.1 2.1l-2.1 2.1l-2.1 -2.1z" fill="#009e73"/>
<path d="M719.44 24.64l2.1 2.1l-2.1 2.1l-2.1 -2.1z" fill="#009e73"/>
<path d="M722.08 29.98l2.1 2.1l-2.1 2.1l-2.1 -2.1z" fill="#009e73"/>
<path d="M724.72 33.88l2.1 2.1l-2.1 2.1l-2.1 -2.1z" fill="#009e73"/>
<path d="M727.37 37.76l2.1 2.1l-2.1 2.1l-2.1 -2.1z" fill="#009e73"/>
<path d="M730.01 41.56l2.1 2.1l-2.1 2.1l-2.1 -2.1z" fill="#009e73"/>
<path d="M732.65 45.19l2.1 2.1l-2.1 2.1l-2.1 -2.1z" fill="#009e73"/>
<path d="M735.29 48.55l2.1 2.1l-2.1 2.1l-2.1 -2.1z" fill="#009e73"/>
<path d="M737.93 51.97l2.1 2.1l-2.1 2.1l-2.1 -2.1z" fill="#009e73"/>
<path d="M740.57 55.22l2.1 2.1l-2.1 2.1l-2.1 -2.1z" fill="#009e73"/>
<path d="M743.21 58.59l2.1 2.1l-2.1 2.1l-2.1 -2.1z" fill="#009e73"/>
<path d="M745.86 62.04l2.1 2.1l-2.1 2.1l-2.1 -2.1z" fill="#009e73"/>
<path d="M748.5 65.47l2.1 2.1l-2.1 2.1l-2.1 -2.1z" fill="#009e73"/>
<path d="M751.14 67.53l2.1 2.1l-2.1 2.1l-2.1 -2.1z" fill="#009e73"/>
<path d="M753.78 69.69l2.1 2.1l-2.1 2.1l-2.1 -2.1z" fill="#009e73"/>
<path d="M756.42 71.63l2.1 2.1l-2.1 2.1l-2.1 -2.1z" fill="#009e73"/>
<path d="M759.06 73.85l2.1 2.1l-2.1 2.1l-2.1 -2.1z" fill="#009e73"/>
<path d="M761.7 75.53l2.1 2.1l-2.1 2.1l-2.1 -2.1z" fill="#009e73"/>
<path d="M764.34 77.65l2.1 2.1l-2.1 2.1l-2.1 -2.1z" fill="#009e73"/>
<path d="M766.99 79.52l2.1 2.1l-2.1 2.1l-2.1 -2.1z" fill="#009e73"/>
<path d="M769.63 80.69l2.1 2.1l-2.1 2.1l-2.1 -2.1z" fill="#009e73"/>
<path d="M772.27 83.45l2.1 2.1l-2.1 2.1l-2.1 -2.1z" fill="#009e73"/>
<path d="M774.91 85.82l2.1 2.1l-2.1 2.1l-2.1 -2.1z" fill="#009e73"/>
<path d="M777.55 86.34l2.1 2.1l-2.1 2.1l-2.1 -2.1z" fill="#009e73"/>
<path d="M780.19 89.37l2.1 2.1l-2.1 2.1l-2.1 -2.1z" fill="#009e73"/>
<path d="M782.83 89.16l2.1 2.1l-2.1 2.1l-2.1 -2.1z" fill="#009e73"/>
<path d="M785.48 90.03l2.1 2.1l-2.1 2.1l-2.1 -2.1z" fill="#009e73"/>
<path d="M788.12 92.08l2.1 2.1l-2.1 2.1l-2.1 -2.1z" fill="#009e73"/>
<path d="M790.76 93.43l2.1 2.1l-2.1 2.1l-2.1 -2.1z" fill="#009e73"/>
<path d="M793.4 97.03l2.1 2.1l-2.1 2.1l-2.1 -2.1z" fill="#009e73"/>
<path d="M796.04 96.47l2.1 2.1l-2.1 2.1l-2.1 -2.1z" fill="#009e73"/>
<path d="M798.68 100.42l2.1 2.1l-2.1 2.1l-2.1 -2.1z" fill="#009e73"/>
<path d="M801.32 98.06l2.1 2.1l-2.1 2.1l-2.1 -2.1z" fill="#009e73"/>
<path d="M803.97 101.79l2.1 2.1l-2.1 2.1l-2.1 -2.1z" fill="#009e73"/>
<path d="M806.61 105.07l2.1 2.1l-2.1 2.1l-2.1 -2.1z" fill="#009e73"/>
<path d="M809.25 107.12l2.1 2.1l-2.1 2.1l-2.1 -2.1z" fill="#009e73"/>
<path d="M811.89 110.02l2.1 2.1l-2.1 2.1l-2.1 -2.1z" fill="#009e73"/>
<path d="M814 109.9l2.1 2.1l-2.1 2.1l-2.1 -2.1z" fill="#009e73"/>
<path d="M817.3 112.9l2.1 2.1l-2.1 2.1l-2.1 -2.1z" fill="#009e73"/>
<path d="M819.2 111.4l2.1 2.1l-2.1 2.1l-2.1 -2.1z" fill="#009e73"/>
<path d="M821 114.6l2.1 2.1l-2.1 2.1l-2.1 -2.1z" fill="#009e73"/>
<path d="M823.5 112.9l2.1 2.1l-2.1 2.1l-2.1 -2.1z" fill="#009e73"/>
<path d="M826 113.4l2.1 2.1l-2.1 2.1l-2.1 -2.1z" fill="#009e73"/>
<path d="M828.6 114.1l2.1 2.1l-2.1 2.1l-2.1 -2.1z" fill="#009e73"/>
<path d="M831.2 115.9l2.1 2.1l-2.1 2.1l-2.1 -2.1z" fill="#009e73"/>
<path d="M833.7 120.9l2.1 2.1l-2.1 2.1l-2.1 -2.1z" fill="#009e73"/>
<path d="M836.5 117.4l2.1 2.1l-2.1 2.1l-2.1 -2.1z" fill="#009e73"/>
<path d="M840 121.4l2.1 2.1l-2.1 2.1l-2.1 -2.1z" fill="#009e73"/>
<path d="M842.5 122.9l2.1 2.1l-2.1 2.1l-2.1 -2.1z" fill="#009e73"/>
<path d="M848.8 121.4l2.1 2.1l-2.1 2.1l-2.1 -2.1z" fill="#009e73"/>
<rect x="715.05" y="14.27" width="3.5" height="3.5" fill="none" stroke="#009e73" stroke-width="0.6"/>
<rect x="718.85" y="27.46" width="3.5" height="3.5" fill="none" stroke="#009e73" stroke-width="0.6"/>
<rect x="722.65" y="33.24" width="3.5" height="3.5" fill="none" stroke="#009e73" stroke-width="0.6"/>
<rect x="726.45" y="39.49" width="3.5" height="3.5" fill="none" stroke="#009e73" stroke-width="0.6"/>
<rect x="730.25" y="45.43" width="3.5" height="3.5" fill="none" stroke="#009e73" stroke-width="0.6"/>
<rect x="734.05" y="49.8" width="3.5" height="3.5" fill="none" stroke="#009e73" stroke-width="0.6"/>
<rect x="737.84" y="54.21" width="3.5" height="3.5" fill="none" stroke="#009e73" stroke-width="0.6"/>
<rect x="741.64" y="58.63" width="3.5" height="3.5" fill="none" stroke="#009e73" stroke-width="0.6"/>
<rect x="745.44" y="62.9" width="3.5" height="3.5" fill="none" stroke="#009e73" stroke-width="0.6"/>
<rect x="749.24" y="65.86" width="3.5" height="3.5" fill="none" stroke="#009e73" stroke-width="0.6"/>
<rect x="753.04" y="67.78" width="3.5" height="3.5" fill="none" stroke="#009e73" stroke-width="0.6"/>
<rect x="756.84" y="69.86" width="3.5" height="3.5" fill="none" stroke="#009e73" stroke-width="0.6"/>
<rect x="760.64" y="71.83" width="3.5" height="3.5" fill="none" stroke="#009e73" stroke-width="0.6"/>
<rect x="764.44" y="73.48" width="3.5" height="3.5" fill="none" stroke="#009e73" stroke-width="0.6"/>
<rect x="768.24" y="75.21" width="3.5" height="3.5" fill="none" stroke="#009e73" stroke-width="0.6"/>
<rect x="772.04" y="76.92" width="3.5" height="3.5" fill="none" stroke="#009e73" stroke-width="0.6"/>
<rect x="775.84" y="78.72" width="3.5" height="3.5" fill="none" stroke="#009e73" stroke-width="0.6"/>
<rect x="779.64" y="79.98" width="3.5" height="3.5" fill="none" stroke="#009e73" stroke-width="0.6"/>
<rect x="783.43" y="81.48" width="3.5" height="3.5" fill="none" stroke="#009e73" stroke-width="0.6"/>
<rect x="787.23" y="82.85" width="3.5" height="3.5" fill="none" stroke="#009e73" stroke-width="0.6"/>
<rect x="791.03" y="84.33" width="3.5" height="3.5" fill="none" stroke="#009e73" stroke-width="0.6"/>
<rect x="794.83" y="86.48" width="3.5" height="3.5" fill="none" stroke="#009e73" stroke-width="0.6"/>
<rect x="798.63" y="87.77" width="3.5" height="3.5" fill="none" stroke="#009e73" stroke-width="0.6"/>
<rect x="802.43" y="88.65" width="3.5" height="3.5" fill="none" stroke="#009e73" stroke-width="0.6"/>
<rect x="806.23" y="91.53" width="3.5" height="3.5" fill="none" stroke="#009e73" stroke-width="0.6"/>
<rect x="810.03" y="91.38" width="3.5" height="3.5" fill="none" stroke="#009e73" stroke-width="0.6"/>
<rect x="813.83" y="93.98" width="3.5" height="3.5" fill="none" stroke="#009e73" stroke-width="0.6"/>
<rect x="815.55" y="94.05" width="3.5" height="3.5" fill="none" stroke="#009e73" stroke-width="0.6"/>
<rect x="819.25" y="95.55" width="3.5" height="3.5" fill="none" stroke="#009e73" stroke-width="0.6"/>
<rect x="823.05" y="97.25" width="3.5" height="3.5" fill="none" stroke="#009e73" stroke-width="0.6"/>
<rect x="826.85" y="98.55" width="3.5" height="3.5" fill="none" stroke="#009e73" stroke-width="0.6"/>
<rect x="830.65" y="99.05" width="3.5" height="3.5" fill="none" stroke="#009e73" stroke-width="0.6"/>
<rect x="834.95" y="101.05" width="3.5" height="3.5" fill="none" stroke="#009e73" stroke-width="0.6"/>
<rect x="838.75" y="101.85" width="3.5" height="3.5" fill="none" stroke="#009e73" stroke-width="0.6"/>
<rect x="842.75" y="103.05" width="3.5" height="3.5" fill="none" stroke="#009e73" stroke-width="0.6"/>
<rect x="846.55" y="106.85" width="3.5" height="3.5" fill="none" stroke="#009e73" stroke-width="0.6"/>
<rect x="850.85" y="106.15" width="3.5" height="3.5" fill="none" stroke="#009e73" stroke-width="0.6"/>
<rect x="854.65" y="107.85" width="3.5" height="3.5" fill="none" stroke="#009e73" stroke-width="0.6"/>
<rect x="858.45" y="109.45" width="3.5" height="3.5" fill="none" stroke="#009e73" stroke-width="0.6"/>
<rect x="862.25" y="110.65" width="3.5" height="3.5" fill="none" stroke="#009e73" stroke-width="0.6"/>
<rect x="866.55" y="113.15" width="3.5" height="3.5" fill="none" stroke="#009e73" stroke-width="0.6"/>
<rect x="870.35" y="111.95" width="3.5" height="3.5" fill="none" stroke="#009e73" stroke-width="0.6"/>
<rect x="874.35" y="113.15" width="3.5" height="3.5" fill="none" stroke="#009e73" stroke-width="0.6"/>
<rect x="878.65" y="114.45" width="3.5" height="3.5" fill="none" stroke="#009e73" stroke-width="0.6"/>
<rect x="882.95" y="114.45" width="3.5" height="3.5" fill="none" stroke="#009e73" stroke-width="0.6"/>
<rect x="887.45" y="121.75" width="3.5" height="3.5" fill="none" stroke="#009e73" stroke-width="0.6"/>
<rect x="891.25" y="121.75" width="3.5" height="3.5" fill="none" stroke="#009e73" stroke-width="0.6"/>
<rect x="895.05" y="121.75" width="3.5" height="3.5" fill="none" stroke="#009e73" stroke-width="0.6"/>
<rect x="899.35" y="121.75" width="3.5" height="3.5" fill="none" stroke="#009e73" stroke-width="0.6"/>
<rect x="903.15" y="125.85" width="3.5" height="3.5" fill="none" stroke="#009e73" stroke-width="0.6"/>
<rect x="714.95" y="15" width="3.7" height="3.7" fill="#009e73"/>
<rect x="720.19" y="28.98" width="3.7" height="3.7" fill="#009e73"/>
<rect x="725.42" y="38.02" width="3.7" height="3.7" fill="#009e73"/>
<rect x="730.66" y="45.42" width="3.7" height="3.7" fill="#009e73"/>
<rect x="735.89" y="52.52" width="3.7" height="3.7" fill="#009e73"/>
<rect x="741.13" y="57.06" width="3.7" height="3.7" fill="#009e73"/>
<rect x="746.37" y="61.6" width="3.7" height="3.7" fill="#009e73"/>
<rect x="751.6" y="64.13" width="3.7" height="3.7" fill="#009e73"/>
<rect x="756.84" y="66.62" width="3.7" height="3.7" fill="#009e73"/>
<rect x="762.08" y="68.68" width="3.7" height="3.7" fill="#009e73"/>
<rect x="767.31" y="70.87" width="3.7" height="3.7" fill="#009e73"/>
<rect x="772.55" y="72.69" width="3.7" height="3.7" fill="#009e73"/>
<rect x="777.78" y="74.28" width="3.7" height="3.7" fill="#009e73"/>
<rect x="783.02" y="75.81" width="3.7" height="3.7" fill="#009e73"/>
<rect x="788.26" y="77.48" width="3.7" height="3.7" fill="#009e73"/>
<rect x="793.49" y="79.04" width="3.7" height="3.7" fill="#009e73"/>
<rect x="798.73" y="80.29" width="3.7" height="3.7" fill="#009e73"/>
<rect x="803.97" y="81.64" width="3.7" height="3.7" fill="#009e73"/>
<rect x="809.2" y="83.31" width="3.7" height="3.7" fill="#009e73"/>
<rect x="816.65" y="85.35" width="3.7" height="3.7" fill="#009e73"/>
<rect x="821.75" y="86.55" width="3.7" height="3.7" fill="#009e73"/>
<rect x="827.25" y="87.85" width="3.7" height="3.7" fill="#009e73"/>
<rect x="832.35" y="88.85" width="3.7" height="3.7" fill="#009e73"/>
<rect x="837.65" y="90.85" width="3.7" height="3.7" fill="#009e73"/>
<rect x="842.65" y="91.65" width="3.7" height="3.7" fill="#009e73"/>
<rect x="848.25" y="92.85" width="3.7" height="3.7" fill="#009e73"/>
<rect x="853.25" y="94.15" width="3.7" height="3.7" fill="#009e73"/>
<rect x="858.35" y="94.65" width="3.7" height="3.7" fill="#009e73"/>
<rect x="863.85" y="95.95" width="3.7" height="3.7" fill="#009e73"/>
<rect x="868.95" y="98.45" width="3.7" height="3.7" fill="#009e73"/>
<rect x="873.95" y="97.95" width="3.7" height="3.7" fill="#009e73"/>
<rect x="879.85" y="100.45" width="3.7" height="3.7" fill="#009e73"/>
<rect x="884.85" y="100.95" width="3.7" height="3.7" fill="#009e73"/>
<rect x="889.95" y="101.45" width="3.7" height="3.7" fill="#009e73"/>
<rect x="894.95" y="103.55" width="3.7" height="3.7" fill="#009e73"/>
<rect x="900.05" y="104.75" width="3.7" height="3.7" fill="#009e73"/>
<rect x="905.55" y="104.25" width="3.7" height="3.7" fill="#009e73"/>
<rect x="910.65" y="105.55" width="3.7" height="3.7" fill="#009e73"/>
<rect x="915.95" y="109.85" width="3.7" height="3.7" fill="#009e73"/>
<rect x="921.45" y="108.55" width="3.7" height="3.7" fill="#009e73"/>
<rect x="926.55" y="109.35" width="3.7" height="3.7" fill="#009e73"/>
<rect x="931.55" y="109.85" width="3.7" height="3.7" fill="#009e73"/>
<rect x="937.15" y="114.35" width="3.7" height="3.7" fill="#009e73"/>
<rect x="942.15" y="109.85" width="3.7" height="3.7" fill="#009e73"/>
<rect x="947.45" y="114.85" width="3.7" height="3.7" fill="#009e73"/>
<rect x="952.55" y="117.35" width="3.7" height="3.7" fill="#009e73"/>
<rect x="958.05" y="114.85" width="3.7" height="3.7" fill="#009e73"/>
<rect x="963.15" y="120.65" width="3.7" height="3.7" fill="#009e73"/>
<rect x="968.15" y="120.65" width="3.7" height="3.7" fill="#009e73"/>
<rect x="973.75" y="121.95" width="3.7" height="3.7" fill="#009e73"/>
<rect x="716.8" y="14.7" width="261.7" height="114.6" fill="none" stroke="#404040" stroke-width="1.0"/>
<path d="M745.89 129.3v-2.2M745.89 14.7v2.2M774.98 129.3v-2.2M774.98 14.7v2.2M804.07 129.3v-2.2M804.07 14.7v2.2M833.16 129.3v-2.2M833.16 14.7v2.2M862.25 129.3v-2.2M862.25 14.7v2.2M891.34 129.3v-2.2M891.34 14.7v2.2M920.43 129.3v-2.2M920.43 14.7v2.2M949.52 129.3v-2.2M949.52 14.7v2.2M716.8 31.65h2.2M978.5 31.65h-2.2M716.8 48.1h2.2M978.5 48.1h-2.2M716.8 64.55h2.2M978.5 64.55h-2.2M716.8 81h2.2M978.5 81h-2.2M716.8 97.45h2.2M978.5 97.45h-2.2M716.8 113.9h2.2M978.5 113.9h-2.2" stroke="#404040" stroke-width="0.7" fill="none"/>
<text x="708.4" y="71.05" text-anchor="end" font-size="14.2">10<tspan dy="-7.3" font-size="10.5">-3</tspan></text>
<text x="708.4" y="120.4" text-anchor="end" font-size="14.2">10<tspan dy="-7.3" font-size="10.5">-6</tspan></text>
<text x="716.8" y="149.3" text-anchor="middle" font-size="14.2" fill="#000" >0</text>
<text x="774.98" y="149.3" text-anchor="middle" font-size="14.2" fill="#000" >20</text>
<text x="833.16" y="149.3" text-anchor="middle" font-size="14.2" fill="#000" >40</text>
<text x="891.34" y="149.3" text-anchor="middle" font-size="14.2" fill="#000" >60</text>
<text x="949.52" y="149.3" text-anchor="middle" font-size="14.2" fill="#000" >80</text>
<text x="679" y="72" text-anchor="middle" font-size="14.2" fill="#000" transform="rotate(-90 679 72)">PDF</text>
<text x="918.3" y="33.1" text-anchor="end" font-size="14.2" fill="#000" >Markovian</text>
<circle cx="946" cy="27.8" r="1.9" fill="#000000"/>
<text x="918.3" y="47.45" text-anchor="end" font-size="14.2" fill="#000" >M=2</text>
<circle cx="946" cy="42.15" r="1.6" fill="none" stroke="#009e73" stroke-width="0.6"/>
<text x="918.3" y="61.8" text-anchor="end" font-size="14.2" fill="#000" >M=4</text>
<path d="M946 54.4l2.1 2.1l-2.1 2.1l-2.1 -2.1z" fill="#009e73"/>
<text x="918.3" y="76.15" text-anchor="end" font-size="14.2" fill="#000" >M=6</text>
<rect x="944.25" y="69.1" width="3.5" height="3.5" fill="none" stroke="#009e73" stroke-width="0.6"/>
<text x="918.3" y="90.5" text-anchor="end" font-size="14.2" fill="#000" >M=7</text>
<rect x="944.15" y="83.35" width="3.7" height="3.7" fill="#009e73"/>
<polygon points="718.32,166.95 720.23,168.33 719.5,170.57 717.15,170.57 716.42,168.33" fill="none" stroke="#ff0000" stroke-width="0.6"/>
<polygon points="721.8,200.77 723.71,202.15 722.98,204.38 720.63,204.38 719.9,202.15" fill="none" stroke="#ff0000" stroke-width="0.6"/>
<polygon points="725.29,218.87 727.19,220.25 726.46,222.49 724.11,222.49 723.38,220.25" fill="none" stroke="#ff0000" stroke-width="0.6"/>
<polygon points="728.77,223.48 730.67,224.86 729.94,227.1 727.59,227.1 726.87,224.86" fill="none" stroke="#ff0000" stroke-width="0.6"/>
<polygon points="732.25,226.67 734.15,228.05 733.43,230.28 731.07,230.28 730.35,228.05" fill="none" stroke="#ff0000" stroke-width="0.6"/>
<polygon points="735.73,229.72 737.63,231.1 736.91,233.33 734.56,233.33 733.83,231.1" fill="none" stroke="#ff0000" stroke-width="0.6"/>
<polygon points="739.21,231.86 741.11,233.24 740.39,235.48 738.04,235.48 737.31,233.24" fill="none" stroke="#ff0000" stroke-width="0.6"/>
<polygon points="742.69,233.36 744.6,234.74 743.87,236.98 741.52,236.98 740.79,234.74" fill="none" stroke="#ff0000" stroke-width="0.6"/>
<polygon points="746.18,235.2 748.08,236.58 747.35,238.81 745,238.81 744.27,236.58" fill="none" stroke="#ff0000" stroke-width="0.6"/>
<polygon points="749.66,236.83 751.56,238.21 750.83,240.44 748.48,240.44 747.76,238.21" fill="none" stroke="#ff0000" stroke-width="0.6"/>
<polygon points="753.14,238.09 755.04,239.48 754.31,241.71 751.96,241.71 751.24,239.48" fill="none" stroke="#ff0000" stroke-width="0.6"/>
<polygon points="756.62,239.29 758.52,240.67 757.8,242.9 755.45,242.9 754.72,240.67" fill="none" stroke="#ff0000" stroke-width="0.6"/>
<polygon points="760.1,240.35 762,241.73 761.28,243.96 758.93,243.96 758.2,241.73" fill="none" stroke="#ff0000" stroke-width="0.6"/>
<polygon points="763.58,240.96 765.49,242.34 764.76,244.58 762.41,244.58 761.68,242.34" fill="none" stroke="#ff0000" stroke-width="0.6"/>
<polygon points="767.07,242.61 768.97,243.99 768.24,246.22 765.89,246.22 765.16,243.99" fill="none" stroke="#ff0000" stroke-width="0.6"/>
<polygon points="770.55,244.15 772.45,245.53 771.72,247.77 769.37,247.77 768.65,245.53" fill="none" stroke="#ff0000" stroke-width="0.6"/>
<polygon points="774.03,243.59 775.93,244.98 775.2,247.21 772.85,247.21 772.13,244.98" fill="none" stroke="#ff0000" stroke-width="0.6"/>
<polygon points="777.51,244.45 779.41,245.84 778.69,248.07 776.33,248.07 775.61,245.84" fill="none" stroke="#ff0000" stroke-width="0.6"/>
<polygon points="780.99,244.9 782.89,246.28 782.17,248.52 779.82,248.52 779.09,246.28" fill="none" stroke="#ff0000" stroke-width="0.6"/>
<polygon points="784.47,245.62 786.38,247.01 785.65,249.24 783.3,249.24 782.57,247.01" fill="none" stroke="#ff0000" stroke-width="0.6"/>
<polygon points="787.96,245.88 789.86,247.27 789.13,249.5 786.78,249.5 786.05,247.27" fill="none" stroke="#ff0000" stroke-width="0.6"/>
<polygon points="791.44,245 793.34,246.38 792.61,248.62 790.26,248.62 789.53,246.38" fill="none" stroke="#ff0000" stroke-width="0.6"/>
<polygon points="794.92,246.32 796.82,247.7 796.09,249.94 793.74,249.94 793.02,247.7" fill="none" stroke="#ff0000" stroke-width="0.6"/>
<polygon points="798.4,246.06 800.3,247.45 799.58,249.68 797.22,249.68 796.5,247.45" fill="none" stroke="#ff0000" stroke-width="0.6"/>
<polygon points="801.88,246.4 803.78,247.78 803.06,250.02 800.71,250.02 799.98,247.78" fill="none" stroke="#ff0000" stroke-width="0.6"/>
<polygon points="805.36,245.49 807.27,246.87 806.54,249.11 804.19,249.11 803.46,246.87" fill="none" stroke="#ff0000" stroke-width="0.6"/>
<polygon points="808.84,246.05 810.75,247.43 810.02,249.67 807.67,249.67 806.94,247.43" fill="none" stroke="#ff0000" stroke-width="0.6"/>
<polygon points="812.33,246.95 814.23,248.33 813.5,250.56 811.15,250.56 810.42,248.33" fill="none" stroke="#ff0000" stroke-width="0.6"/>
<polygon points="816,246.2 817.9,247.58 817.18,249.82 814.82,249.82 814.1,247.58" fill="none" stroke="#ff0000" stroke-width="0.6"/>
<polygon points="818.5,247.2 820.4,248.58 819.68,250.82 817.32,250.82 816.6,248.58" fill="none" stroke="#ff0000" stroke-width="0.6"/>
<polygon points="822.3,247.9 824.2,249.28 823.48,251.52 821.12,251.52 820.4,249.28" fill="none" stroke="#ff0000" stroke-width="0.6"/>
<polygon points="826.1,248.7 828,250.08 827.28,252.32 824.92,252.32 824.2,250.08" fill="none" stroke="#ff0000" stroke-width="0.6"/>
<polygon points="829.9,247.4 831.8,248.78 831.08,251.02 828.72,251.02 828,248.78" fill="none" stroke="#ff0000" stroke-width="0.6"/>
<polygon points="833.7,248.7 835.6,250.08 834.88,252.32 832.52,252.32 831.8,250.08" fill="none" stroke="#ff0000" stroke-width="0.6"/>
<polygon points="837,247.9 838.9,249.28 838.18,251.52 835.82,251.52 835.1,249.28" fill="none" stroke="#ff0000" stroke-width="0.6"/>
<polygon points="840.5,251.2 842.4,252.58 841.68,254.82 839.32,254.82 838.6,252.58" fill="none" stroke="#ff0000" stroke-width="0.6"/>
<polygon points="843.8,252.5 845.7,253.88 844.98,256.12 842.62,256.12 841.9,253.88" fill="none" stroke="#ff0000" stroke-width="0.6"/>
<polygon points="847.6,253.5 849.5,254.88 848.78,257.12 846.42,257.12 845.7,254.88" fill="none" stroke="#ff0000" stroke-width="0.6"/>
<polygon points="850.8,256 852.7,257.38 851.98,259.62 849.62,259.62 848.9,257.38" fill="none" stroke="#ff0000" stroke-width="0.6"/>
<polygon points="854.4,257.5 856.3,258.88 855.58,261.12 853.22,261.12 852.5,258.88" fill="none" stroke="#ff0000" stroke-width="0.6"/>
<polygon points="857.7,259.3 859.6,260.68 858.88,262.92 856.52,262.92 855.8,260.68" fill="none" stroke="#ff0000" stroke-width="0.6"/>
<polygon points="861.5,262.6 863.4,263.98 862.68,266.22 860.32,266.22 859.6,263.98" fill="none" stroke="#ff0000" stroke-width="0.6"/>
<polygon points="864.7,261.3 866.6,262.68 865.88,264.92 863.52,264.92 862.8,262.68" fill="none" stroke="#ff0000" stroke-width="0.6"/>
<polygon points="868.3,262.6 870.2,263.98 869.48,266.22 867.12,266.22 866.4,263.98" fill="none" stroke="#ff0000" stroke-width="0.6"/>
<polygon points="871.6,265.1 873.5,266.48 872.78,268.72 870.42,268.72 869.7,266.48" fill="none" stroke="#ff0000" stroke-width="0.6"/>
<polygon points="875.3,262.6 877.2,263.98 876.48,266.22 874.12,266.22 873.4,263.98" fill="none" stroke="#ff0000" stroke-width="0.6"/>
<polygon points="879.1,265.1 881,266.48 880.28,268.72 877.92,268.72 877.2,266.48" fill="none" stroke="#ff0000" stroke-width="0.6"/>
<polygon points="882.2,265.1 884.1,266.48 883.38,268.72 881.02,268.72 880.3,266.48" fill="none" stroke="#ff0000" stroke-width="0.6"/>
<polygon points="889.2,265.1 891.1,266.48 890.38,268.72 888.02,268.72 887.3,266.48" fill="none" stroke="#ff0000" stroke-width="0.6"/>
<rect x="717.26" y="170.07" width="3.7" height="3.7" fill="#ff0000"/>
<rect x="722.45" y="210.96" width="3.7" height="3.7" fill="#ff0000"/>
<rect x="727.65" y="217.65" width="3.7" height="3.7" fill="#ff0000"/>
<rect x="732.85" y="221.75" width="3.7" height="3.7" fill="#ff0000"/>
<rect x="738.04" y="224.34" width="3.7" height="3.7" fill="#ff0000"/>
<rect x="743.24" y="226.12" width="3.7" height="3.7" fill="#ff0000"/>
<rect x="748.43" y="228.09" width="3.7" height="3.7" fill="#ff0000"/>
<rect x="753.63" y="229.52" width="3.7" height="3.7" fill="#ff0000"/>
<rect x="758.83" y="230.5" width="3.7" height="3.7" fill="#ff0000"/>
<rect x="764.02" y="231.2" width="3.7" height="3.7" fill="#ff0000"/>
<rect x="769.22" y="232.14" width="3.7" height="3.7" fill="#ff0000"/>
<rect x="774.42" y="232.86" width="3.7" height="3.7" fill="#ff0000"/>
<rect x="779.61" y="233.67" width="3.7" height="3.7" fill="#ff0000"/>
<rect x="784.81" y="234.71" width="3.7" height="3.7" fill="#ff0000"/>
<rect x="790" y="234.99" width="3.7" height="3.7" fill="#ff0000"/>
<rect x="795.2" y="235.91" width="3.7" height="3.7" fill="#ff0000"/>
<rect x="800.4" y="236.62" width="3.7" height="3.7" fill="#ff0000"/>
<rect x="805.59" y="237.17" width="3.7" height="3.7" fill="#ff0000"/>
<rect x="810.79" y="237.74" width="3.7" height="3.7" fill="#ff0000"/>
<rect x="815.99" y="238.28" width="3.7" height="3.7" fill="#ff0000"/>
<rect x="821.18" y="238.63" width="3.7" height="3.7" fill="#ff0000"/>
<rect x="826.38" y="240.03" width="3.7" height="3.7" fill="#ff0000"/>
<rect x="831.57" y="240.48" width="3.7" height="3.7" fill="#ff0000"/>
<rect x="836.77" y="240.97" width="3.7" height="3.7" fill="#ff0000"/>
<rect x="841.97" y="241.79" width="3.7" height="3.7" fill="#ff0000"/>
<rect x="847.16" y="242.69" width="3.7" height="3.7" fill="#ff0000"/>
<rect x="852.36" y="242.99" width="3.7" height="3.7" fill="#ff0000"/>
<rect x="857.56" y="243.57" width="3.7" height="3.7" fill="#ff0000"/>
<rect x="862.75" y="244.1" width="3.7" height="3.7" fill="#ff0000"/>
<rect x="867.95" y="244.93" width="3.7" height="3.7" fill="#ff0000"/>
<rect x="873.15" y="245.1" width="3.7" height="3.7" fill="#ff0000"/>
<rect x="878.34" y="246.02" width="3.7" height="3.7" fill="#ff0000"/>
<rect x="883.54" y="246.48" width="3.7" height="3.7" fill="#ff0000"/>
<rect x="888.73" y="247.66" width="3.7" height="3.7" fill="#ff0000"/>
<rect x="893.93" y="248.84" width="3.7" height="3.7" fill="#ff0000"/>
<rect x="899.13" y="248.23" width="3.7" height="3.7" fill="#ff0000"/>
<rect x="904.32" y="248.85" width="3.7" height="3.7" fill="#ff0000"/>
<rect x="909.52" y="249.21" width="3.7" height="3.7" fill="#ff0000"/>
<rect x="914.72" y="249.89" width="3.7" height="3.7" fill="#ff0000"/>
<rect x="919.91" y="250.55" width="3.7" height="3.7" fill="#ff0000"/>
<rect x="925.11" y="251.01" width="3.7" height="3.7" fill="#ff0000"/>
<rect x="930.3" y="250.99" width="3.7" height="3.7" fill="#ff0000"/>
<rect x="935.5" y="252.2" width="3.7" height="3.7" fill="#ff0000"/>
<rect x="940.7" y="252.49" width="3.7" height="3.7" fill="#ff0000"/>
<rect x="945.89" y="252.86" width="3.7" height="3.7" fill="#ff0000"/>
<rect x="953.05" y="253.65" width="3.7" height="3.7" fill="#ff0000"/>
<rect x="958.15" y="256.95" width="3.7" height="3.7" fill="#ff0000"/>
<rect x="963.15" y="256.95" width="3.7" height="3.7" fill="#ff0000"/>
<rect x="968.65" y="255.15" width="3.7" height="3.7" fill="#ff0000"/>
<rect x="973.75" y="258.15" width="3.7" height="3.7" fill="#ff0000"/>
<rect x="716.8" y="155" width="261.7" height="113.8" fill="none" stroke="#404040" stroke-width="1.0"/>
<path d="M738.56 268.8v-2.2M738.56 155v2.2M760.32 268.8v-2.2M760.32 155v2.2M782.08 268.8v-2.2M782.08 155v2.2M803.84 268.8v-2.2M803.84 155v2.2M825.6 268.8v-2.2M825.6 155v2.2M847.36 268.8v-2.2M847.36 155v2.2M869.12 268.8v-2.2M869.12 155v2.2M890.88 268.8v-2.2M890.88 155v2.2M912.64 268.8v-2.2M912.64 155v2.2M934.4 268.8v-2.2M934.4 155v2.2M716.8 170.6h2.2M978.5 170.6h-2.2M716.8 187.1h2.2M978.5 187.1h-2.2M716.8 203.6h2.2M978.5 203.6h-2.2M716.8 220.1h2.2M978.5 220.1h-2.2M716.8 236.6h2.2M978.5 236.6h-2.2M716.8 253.1h2.2M978.5 253.1h-2.2" stroke="#404040" stroke-width="0.7" fill="none"/>
<text x="708.4" y="193.6" text-anchor="end" font-size="14.2">10<tspan dy="-7.3" font-size="10.5">-2</tspan></text>
<text x="708.4" y="226.6" text-anchor="end" font-size="14.2">10<tspan dy="-7.3" font-size="10.5">-4</tspan></text>
<text x="708.4" y="259.6" text-anchor="end" font-size="14.2">10<tspan dy="-7.3" font-size="10.5">-6</tspan></text>
<text x="716.8" y="288.3" text-anchor="middle" font-size="14.2" fill="#000" >0</text>
<text x="760.32" y="288.3" text-anchor="middle" font-size="14.2" fill="#000" >100</text>
<text x="803.84" y="288.3" text-anchor="middle" font-size="14.2" fill="#000" >200</text>
<text x="847.36" y="288.3" text-anchor="middle" font-size="14.2" fill="#000" >300</text>
<text x="890.88" y="288.3" text-anchor="middle" font-size="14.2" fill="#000" >400</text>
<text x="934.4" y="288.3" text-anchor="middle" font-size="14.2" fill="#000" >500</text>
<text x="679" y="211" text-anchor="middle" font-size="14.2" fill="#000" transform="rotate(-90 679 211)">PDF</text>
<text x="848" y="308.6" text-anchor="middle" font-size="14.2" fill="#000" letter-spacing="0.9">I/I</text>
<path d="M850.4 296.7h5.2" stroke="#000" stroke-width="0.8"/>
<text x="918.3" y="172.5" text-anchor="end" font-size="14.2" fill="#000" >M=5</text>
<polygon points="946,165.2 947.9,166.58 947.18,168.82 944.82,168.82 944.1,166.58" fill="none" stroke="#ff0000" stroke-width="0.6"/>
<text x="918.3" y="186.9" text-anchor="end" font-size="14.2" fill="#000" >M=8</text>
<rect x="944.15" y="179.75" width="3.7" height="3.7" fill="#ff0000"/>
</svg>
</body></html>
